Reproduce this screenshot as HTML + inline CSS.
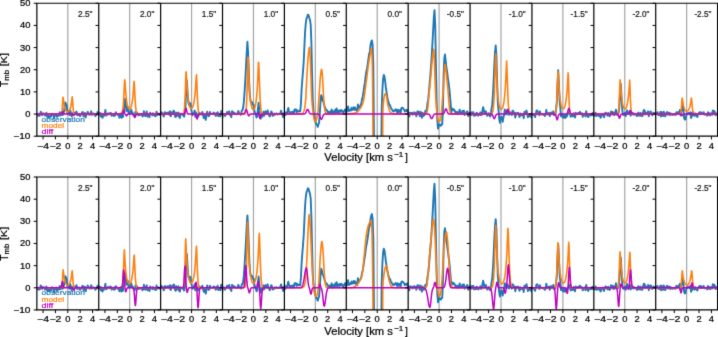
<!DOCTYPE html>
<html><head><meta charset="utf-8"><style>
html,body{margin:0;padding:0;background:#fff;width:718px;height:337px;overflow:hidden}
svg{display:block;font-family:"Liberation Sans",sans-serif;}
</style></head><body>
<svg width="718" height="337" viewBox="0 0 718 337">
<rect width="718" height="337" fill="#fff"/>
<defs>
<clipPath id="c0_0"><rect x="36.86" y="3.26" width="61.88" height="132.96"/></clipPath>
<clipPath id="c0_1"><rect x="98.75" y="3.26" width="61.88" height="132.96"/></clipPath>
<clipPath id="c0_2"><rect x="160.63" y="3.26" width="61.88" height="132.96"/></clipPath>
<clipPath id="c0_3"><rect x="222.51" y="3.26" width="61.88" height="132.96"/></clipPath>
<clipPath id="c0_4"><rect x="284.40" y="3.26" width="61.88" height="132.96"/></clipPath>
<clipPath id="c0_5"><rect x="346.29" y="3.26" width="61.88" height="132.96"/></clipPath>
<clipPath id="c0_6"><rect x="408.17" y="3.26" width="61.88" height="132.96"/></clipPath>
<clipPath id="c0_7"><rect x="470.06" y="3.26" width="61.88" height="132.96"/></clipPath>
<clipPath id="c0_8"><rect x="531.94" y="3.26" width="61.88" height="132.96"/></clipPath>
<clipPath id="c0_9"><rect x="593.83" y="3.26" width="61.88" height="132.96"/></clipPath>
<clipPath id="c0_10"><rect x="655.71" y="3.26" width="61.88" height="132.96"/></clipPath>
<clipPath id="c1_0"><rect x="36.86" y="177.00" width="61.88" height="132.90"/></clipPath>
<clipPath id="c1_1"><rect x="98.75" y="177.00" width="61.88" height="132.90"/></clipPath>
<clipPath id="c1_2"><rect x="160.63" y="177.00" width="61.88" height="132.90"/></clipPath>
<clipPath id="c1_3"><rect x="222.51" y="177.00" width="61.88" height="132.90"/></clipPath>
<clipPath id="c1_4"><rect x="284.40" y="177.00" width="61.88" height="132.90"/></clipPath>
<clipPath id="c1_5"><rect x="346.29" y="177.00" width="61.88" height="132.90"/></clipPath>
<clipPath id="c1_6"><rect x="408.17" y="177.00" width="61.88" height="132.90"/></clipPath>
<clipPath id="c1_7"><rect x="470.06" y="177.00" width="61.88" height="132.90"/></clipPath>
<clipPath id="c1_8"><rect x="531.94" y="177.00" width="61.88" height="132.90"/></clipPath>
<clipPath id="c1_9"><rect x="593.83" y="177.00" width="61.88" height="132.90"/></clipPath>
<clipPath id="c1_10"><rect x="655.71" y="177.00" width="61.88" height="132.90"/></clipPath>
<filter id="bl" x="0" y="0" width="718" height="337" filterUnits="userSpaceOnUse" color-interpolation-filters="sRGB"><feConvolveMatrix order="3" kernelMatrix="0.01134 0.08382 0.01134 0.08382 0.61935 0.08382 0.01134 0.08382 0.01134" edgeMode="duplicate" preserveAlpha="true"/></filter>
</defs>
<g filter="url(#bl)"><rect width="718" height="337" fill="#fff"/>
<line x1="67.80" y1="3.26" x2="67.80" y2="136.22" stroke="#a5a5a5" stroke-width="1.2"/>
<g clip-path="url(#c0_0)" fill="none" stroke-linejoin="round">
<polyline points="35.9,114.1 36.6,113.5 37.3,114.6 38.0,115.7 38.7,114.9 39.4,115.8 40.1,114.0 40.8,111.6 41.5,114.9 42.2,115.2 42.9,113.2 43.6,113.4 44.3,113.9 45.0,115.7 45.7,114.1 46.4,112.8 47.1,116.5 47.8,114.9 48.5,117.5 49.2,116.4 49.9,117.4 50.6,114.5 51.3,116.3 52.0,113.6 52.7,113.8 53.4,114.4 54.1,118.6 54.8,115.0 55.5,114.1 56.2,113.9 56.9,116.8 57.6,114.9 58.3,115.8 59.0,115.5 59.7,112.2 60.4,115.5 61.1,114.1 61.8,112.5 62.5,115.1 63.2,114.1 63.9,112.1 64.6,106.9 65.3,102.4 66.0,103.8 66.7,105.3 67.4,113.6 68.1,111.0 68.8,113.2 69.5,115.0 70.2,110.4 70.9,112.7 71.6,116.2 72.3,113.9 73.0,113.0 73.7,114.4 74.4,112.8 75.1,114.2 75.8,112.9 76.5,111.5 77.2,115.3 77.9,113.7 78.6,114.9 79.3,113.8 80.0,116.2 80.7,115.1 81.4,114.4 82.1,112.4 82.8,112.0 83.5,116.4 84.2,115.5 84.9,112.9 85.6,117.6 86.3,114.9 87.0,114.2 87.7,111.8 88.4,112.8 89.1,114.6 89.8,114.7 90.5,114.5 91.2,111.3 91.9,114.8 92.6,114.6 93.3,113.4 94.0,114.3 94.7,114.4 95.4,116.1 96.1,114.1 96.8,114.9 97.5,112.0 98.2,112.9 98.9,114.1 99.6,112.9" stroke="#1f77b4" stroke-width="1.9"/>
<polyline points="35.9,114.1 59.6,114.1 59.9,114.0 61.1,114.0 61.4,113.7 61.7,113.1 62.0,111.6 62.3,108.3 62.6,103.0 62.9,97.2 63.2,97.5 63.5,100.2 63.8,102.5 64.1,104.4 64.4,106.0 64.7,107.3 65.0,108.3 65.3,109.2 65.6,109.9 65.9,110.5 66.2,110.9 66.5,111.3 66.8,111.6 67.1,111.7 67.4,111.8 67.7,111.9 68.0,111.8 68.3,111.7 68.6,111.5 68.9,111.2 69.2,110.8 69.5,110.3 69.8,109.7 70.1,109.0 70.4,108.1 70.7,107.0 71.0,105.6 71.3,104.0 71.6,102.1 71.9,99.7 72.2,96.9 72.5,99.0 72.8,103.7 73.1,107.9 73.4,110.8 73.7,112.5 74.0,113.4 74.3,113.8 74.6,114.0 75.5,114.0 75.8,114.1 99.5,114.1" stroke="#ff7f0e" stroke-width="1.6"/>
<polyline points="35.9,114.1 60.8,114.1 61.1,114.0 61.4,113.9 61.7,113.5 62.0,112.6 62.3,111.7 62.6,111.7 62.9,112.7 63.2,113.6 63.5,113.9 63.8,114.0 64.1,114.1 71.9,114.1 72.2,114.2 72.5,114.3 72.8,114.7 73.1,115.2 73.4,115.5 73.7,115.5 74.0,115.1 74.3,114.7 74.6,114.3 74.9,114.1 99.5,114.1" stroke="#bf00bf" stroke-width="1.5" stroke-opacity="1.0"/>
</g>
<line x1="43.05" y1="136.22" x2="43.05" y2="139.42" stroke="#000" stroke-width="1.0"/>
<line x1="55.43" y1="136.22" x2="55.43" y2="139.42" stroke="#000" stroke-width="1.0"/>
<line x1="67.80" y1="136.22" x2="67.80" y2="139.42" stroke="#000" stroke-width="1.0"/>
<line x1="80.18" y1="136.22" x2="80.18" y2="139.42" stroke="#000" stroke-width="1.0"/>
<line x1="92.56" y1="136.22" x2="92.56" y2="139.42" stroke="#000" stroke-width="1.0"/>
<line x1="33.66" y1="136.22" x2="36.86" y2="136.22" stroke="#000" stroke-width="1.0"/>
<line x1="33.66" y1="114.06" x2="36.86" y2="114.06" stroke="#000" stroke-width="1.0"/>
<line x1="33.66" y1="91.90" x2="36.86" y2="91.90" stroke="#000" stroke-width="1.0"/>
<line x1="33.66" y1="69.74" x2="36.86" y2="69.74" stroke="#000" stroke-width="1.0"/>
<line x1="33.66" y1="47.58" x2="36.86" y2="47.58" stroke="#000" stroke-width="1.0"/>
<line x1="33.66" y1="25.42" x2="36.86" y2="25.42" stroke="#000" stroke-width="1.0"/>
<line x1="33.66" y1="3.26" x2="36.86" y2="3.26" stroke="#000" stroke-width="1.0"/>
<text font-family="Liberation Sans, sans-serif" x="43.05" y="148.72" font-size="8.6" text-anchor="middle" textLength="12.0" lengthAdjust="spacingAndGlyphs" stroke="#000" stroke-width="0.22">−4</text>
<text font-family="Liberation Sans, sans-serif" x="55.43" y="148.72" font-size="8.6" text-anchor="middle" textLength="12.0" lengthAdjust="spacingAndGlyphs" stroke="#000" stroke-width="0.22">−2</text>
<text font-family="Liberation Sans, sans-serif" x="67.80" y="148.72" font-size="8.6" text-anchor="middle" textLength="5.2" lengthAdjust="spacingAndGlyphs" stroke="#000" stroke-width="0.22">0</text>
<text font-family="Liberation Sans, sans-serif" x="80.18" y="148.72" font-size="8.6" text-anchor="middle" textLength="5.2" lengthAdjust="spacingAndGlyphs" stroke="#000" stroke-width="0.22">2</text>
<text font-family="Liberation Sans, sans-serif" x="92.56" y="148.72" font-size="8.6" text-anchor="middle" textLength="5.2" lengthAdjust="spacingAndGlyphs" stroke="#000" stroke-width="0.22">4</text>
<text font-family="Liberation Sans, sans-serif" x="92.55" y="16.76" font-size="8.2" text-anchor="end" fill="#111" textLength="14.5" lengthAdjust="spacingAndGlyphs" stroke="#111" stroke-width="0.18">2.5"</text>
<line x1="129.69" y1="3.26" x2="129.69" y2="136.22" stroke="#a5a5a5" stroke-width="1.2"/>
<g clip-path="url(#c0_1)" fill="none" stroke-linejoin="round">
<polyline points="97.7,114.7 98.4,112.2 99.1,114.1 99.8,113.0 100.5,116.4 101.2,113.4 101.9,117.1 102.6,117.7 103.3,114.6 104.0,115.7 104.7,113.8 105.4,110.0 106.1,115.6 106.8,115.2 107.5,113.7 108.2,113.2 108.9,114.4 109.6,114.4 110.3,112.8 111.0,113.1 111.7,115.9 112.4,114.2 113.1,114.0 113.8,116.0 114.5,113.6 115.2,115.6 115.9,112.3 116.6,113.7 117.3,113.9 118.0,115.1 118.7,114.3 119.4,117.7 120.1,116.1 120.8,113.4 121.5,117.9 122.2,112.5 122.9,117.1 123.6,111.2 124.3,105.9 125.0,98.9 125.7,104.4 126.4,111.0 127.1,106.3 127.8,107.4 128.5,113.0 129.2,113.9 129.9,112.1 130.6,112.7 131.3,109.7 132.0,112.5 132.7,112.7 133.4,115.2 134.1,115.2 134.8,116.4 135.5,111.8 136.2,114.3 136.9,112.3 137.6,114.0 138.3,115.3 139.0,114.6 139.7,115.1 140.4,114.0 141.1,114.7 141.8,114.6 142.5,116.5 143.2,115.5 143.9,111.1 144.6,115.3 145.3,116.0 146.0,113.5 146.7,111.5 147.4,116.7 148.1,114.4 148.8,115.2 149.5,117.2 150.2,112.7 150.9,114.1 151.6,113.9 152.3,115.4 153.0,113.2 153.7,115.0 154.4,114.3 155.1,116.1 155.8,116.2 156.5,111.7 157.2,115.0 157.9,113.5 158.6,114.1 159.3,114.9 160.0,115.0 160.7,112.9 161.4,114.6" stroke="#1f77b4" stroke-width="1.9"/>
<polyline points="97.7,114.1 119.3,114.1 119.6,114.0 120.8,114.0 121.1,113.9 121.4,113.7 121.7,113.4 122.0,112.9 122.3,112.1 122.6,110.8 122.9,108.7 123.2,105.8 123.5,101.7 123.8,96.6 124.1,90.6 124.4,84.6 124.7,79.7 125.0,81.4 125.3,86.6 125.6,90.9 125.9,94.5 126.2,97.5 126.5,100.0 126.8,102.1 127.1,103.8 127.4,105.2 127.7,106.4 128.0,107.3 128.3,108.0 128.6,108.5 128.9,108.9 129.2,109.1 129.5,109.2 129.8,109.1 130.1,108.8 130.4,108.5 130.7,107.9 131.0,107.2 131.3,106.2 131.6,105.1 131.9,103.6 132.2,101.9 132.5,99.8 132.8,97.3 133.1,94.3 133.4,90.7 133.7,86.5 134.0,81.4 134.3,83.0 134.6,88.8 134.9,95.2 135.2,100.9 135.5,105.5 135.8,108.7 136.1,110.9 136.4,112.3 136.7,113.1 137.0,113.6 137.3,113.8 137.6,113.9 137.9,114.0 139.1,114.0 139.4,114.1 161.3,114.1" stroke="#ff7f0e" stroke-width="1.6"/>
<polyline points="97.7,114.1 121.4,114.1 121.7,114.0 122.0,114.0 122.3,113.8 122.6,113.3 122.9,112.4 123.2,111.3 123.5,110.3 123.8,110.0 124.1,110.5 124.4,111.6 124.7,112.7 125.0,113.5 125.3,114.1 125.6,114.6 125.9,115.2 126.2,115.7 126.5,115.9 126.8,115.6 127.1,115.0 127.4,114.5 127.7,114.2 128.0,114.1 132.8,114.1 133.1,114.2 133.4,114.5 133.7,115.0 134.0,115.7 134.3,116.6 134.6,117.2 134.9,117.5 135.2,117.1 135.5,116.3 135.8,115.5 136.1,114.8 136.4,114.4 136.7,114.2 137.0,114.1 161.3,114.1" stroke="#bf00bf" stroke-width="1.5" stroke-opacity="1.0"/>
</g>
<line x1="104.93" y1="136.22" x2="104.93" y2="139.42" stroke="#000" stroke-width="1.0"/>
<line x1="117.31" y1="136.22" x2="117.31" y2="139.42" stroke="#000" stroke-width="1.0"/>
<line x1="129.69" y1="136.22" x2="129.69" y2="139.42" stroke="#000" stroke-width="1.0"/>
<line x1="142.06" y1="136.22" x2="142.06" y2="139.42" stroke="#000" stroke-width="1.0"/>
<line x1="154.44" y1="136.22" x2="154.44" y2="139.42" stroke="#000" stroke-width="1.0"/>
<line x1="95.55" y1="136.22" x2="98.75" y2="136.22" stroke="#000" stroke-width="1.0"/>
<line x1="95.55" y1="114.06" x2="98.75" y2="114.06" stroke="#000" stroke-width="1.0"/>
<line x1="95.55" y1="91.90" x2="98.75" y2="91.90" stroke="#000" stroke-width="1.0"/>
<line x1="95.55" y1="69.74" x2="98.75" y2="69.74" stroke="#000" stroke-width="1.0"/>
<line x1="95.55" y1="47.58" x2="98.75" y2="47.58" stroke="#000" stroke-width="1.0"/>
<line x1="95.55" y1="25.42" x2="98.75" y2="25.42" stroke="#000" stroke-width="1.0"/>
<line x1="95.55" y1="3.26" x2="98.75" y2="3.26" stroke="#000" stroke-width="1.0"/>
<text font-family="Liberation Sans, sans-serif" x="104.93" y="148.72" font-size="8.6" text-anchor="middle" textLength="12.0" lengthAdjust="spacingAndGlyphs" stroke="#000" stroke-width="0.22">−4</text>
<text font-family="Liberation Sans, sans-serif" x="117.31" y="148.72" font-size="8.6" text-anchor="middle" textLength="12.0" lengthAdjust="spacingAndGlyphs" stroke="#000" stroke-width="0.22">−2</text>
<text font-family="Liberation Sans, sans-serif" x="129.69" y="148.72" font-size="8.6" text-anchor="middle" textLength="5.2" lengthAdjust="spacingAndGlyphs" stroke="#000" stroke-width="0.22">0</text>
<text font-family="Liberation Sans, sans-serif" x="142.06" y="148.72" font-size="8.6" text-anchor="middle" textLength="5.2" lengthAdjust="spacingAndGlyphs" stroke="#000" stroke-width="0.22">2</text>
<text font-family="Liberation Sans, sans-serif" x="154.44" y="148.72" font-size="8.6" text-anchor="middle" textLength="5.2" lengthAdjust="spacingAndGlyphs" stroke="#000" stroke-width="0.22">4</text>
<text font-family="Liberation Sans, sans-serif" x="154.43" y="16.76" font-size="8.2" text-anchor="end" fill="#111" textLength="14.5" lengthAdjust="spacingAndGlyphs" stroke="#111" stroke-width="0.18">2.0"</text>
<line x1="191.57" y1="3.26" x2="191.57" y2="136.22" stroke="#a5a5a5" stroke-width="1.2"/>
<g clip-path="url(#c0_2)" fill="none" stroke-linejoin="round">
<polyline points="159.6,114.3 160.3,114.0 161.0,111.9 161.7,112.8 162.4,113.4 163.1,115.1 163.8,116.5 164.5,112.4 165.2,112.3 165.9,114.3 166.6,113.1 167.3,112.7 168.0,112.6 168.7,112.4 169.4,114.9 170.1,111.3 170.8,116.3 171.5,112.5 172.2,113.2 172.9,112.5 173.6,110.7 174.3,111.4 175.0,116.1 175.7,117.1 176.4,112.6 177.1,115.9 177.8,114.1 178.5,112.5 179.2,117.0 179.9,117.9 180.6,113.6 181.3,114.0 182.0,114.5 182.7,114.0 183.4,115.6 184.1,116.7 184.8,113.3 185.5,105.5 186.2,86.2 186.9,80.5 187.6,93.4 188.3,102.0 189.0,105.1 189.7,102.9 190.4,103.4 191.1,109.4 191.8,111.9 192.5,115.2 193.2,113.4 193.9,113.4 194.6,110.4 195.3,116.6 196.0,112.5 196.7,114.2 197.4,114.1 198.1,116.7 198.8,114.9 199.5,112.7 200.2,114.2 200.9,113.9 201.6,114.6 202.3,112.0 203.0,114.1 203.7,118.0 204.4,115.3 205.1,117.6 205.8,119.9 206.5,115.0 207.2,111.7 207.9,114.0 208.6,116.2 209.3,115.8 210.0,112.0 210.7,113.8 211.4,114.0 212.1,114.2 212.8,114.0 213.5,112.6 214.2,113.1 214.9,113.7 215.6,115.9 216.3,113.1 217.0,115.3 217.7,112.1 218.4,116.3 219.1,114.3 219.8,114.1 220.5,116.4 221.2,111.0 221.9,111.4 222.6,114.9 223.3,112.7" stroke="#1f77b4" stroke-width="1.9"/>
<polyline points="159.6,114.1 180.6,114.1 180.9,114.0 182.7,114.0 183.0,113.9 183.3,113.7 183.6,113.3 183.9,112.4 184.2,110.9 184.5,108.2 184.8,103.9 185.1,97.7 185.4,89.4 185.7,80.0 186.0,71.9 186.3,72.6 186.6,78.8 186.9,84.1 187.2,88.6 187.5,92.3 187.8,95.5 188.1,98.2 188.4,100.4 188.7,102.3 189.0,103.9 189.3,105.2 189.6,106.2 189.9,107.0 190.2,107.7 190.5,108.1 190.8,108.5 191.1,108.6 191.4,108.7 191.7,108.5 192.0,108.3 192.3,107.9 192.6,107.3 192.9,106.5 193.2,105.6 193.5,104.5 193.8,103.1 194.1,101.4 194.4,99.4 194.7,97.0 195.0,94.2 195.3,90.9 195.6,87.0 195.9,82.4 196.2,77.0 196.5,74.8 196.8,81.5 197.1,89.7 197.4,97.3 197.7,103.4 198.0,107.6 198.3,110.4 198.6,112.1 198.9,113.1 199.2,113.6 199.5,113.8 199.8,113.9 200.1,114.0 201.3,114.0 201.6,114.1 223.2,114.1" stroke="#ff7f0e" stroke-width="1.6"/>
<polyline points="159.6,114.1 183.3,114.1 183.6,114.0 183.9,114.0 184.2,113.8 184.5,113.4 184.8,112.6 185.1,111.3 185.4,109.8 185.7,108.6 186.0,108.2 186.3,108.8 186.6,110.1 186.9,111.6 187.2,112.8 187.5,113.5 187.8,113.9 188.1,114.0 188.4,114.0 188.7,114.1 194.7,114.1 195.0,114.2 195.3,114.4 195.6,114.8 195.9,115.6 196.2,116.8 196.5,118.0 196.8,118.8 197.1,118.9 197.4,118.1 197.7,116.9 198.0,115.8 198.3,114.9 198.6,114.4 198.9,114.2 199.2,114.1 223.2,114.1" stroke="#bf00bf" stroke-width="1.5" stroke-opacity="1.0"/>
</g>
<line x1="166.82" y1="136.22" x2="166.82" y2="139.42" stroke="#000" stroke-width="1.0"/>
<line x1="179.20" y1="136.22" x2="179.20" y2="139.42" stroke="#000" stroke-width="1.0"/>
<line x1="191.57" y1="136.22" x2="191.57" y2="139.42" stroke="#000" stroke-width="1.0"/>
<line x1="203.95" y1="136.22" x2="203.95" y2="139.42" stroke="#000" stroke-width="1.0"/>
<line x1="216.33" y1="136.22" x2="216.33" y2="139.42" stroke="#000" stroke-width="1.0"/>
<line x1="157.43" y1="136.22" x2="160.63" y2="136.22" stroke="#000" stroke-width="1.0"/>
<line x1="157.43" y1="114.06" x2="160.63" y2="114.06" stroke="#000" stroke-width="1.0"/>
<line x1="157.43" y1="91.90" x2="160.63" y2="91.90" stroke="#000" stroke-width="1.0"/>
<line x1="157.43" y1="69.74" x2="160.63" y2="69.74" stroke="#000" stroke-width="1.0"/>
<line x1="157.43" y1="47.58" x2="160.63" y2="47.58" stroke="#000" stroke-width="1.0"/>
<line x1="157.43" y1="25.42" x2="160.63" y2="25.42" stroke="#000" stroke-width="1.0"/>
<line x1="157.43" y1="3.26" x2="160.63" y2="3.26" stroke="#000" stroke-width="1.0"/>
<text font-family="Liberation Sans, sans-serif" x="166.82" y="148.72" font-size="8.6" text-anchor="middle" textLength="12.0" lengthAdjust="spacingAndGlyphs" stroke="#000" stroke-width="0.22">−4</text>
<text font-family="Liberation Sans, sans-serif" x="179.20" y="148.72" font-size="8.6" text-anchor="middle" textLength="12.0" lengthAdjust="spacingAndGlyphs" stroke="#000" stroke-width="0.22">−2</text>
<text font-family="Liberation Sans, sans-serif" x="191.57" y="148.72" font-size="8.6" text-anchor="middle" textLength="5.2" lengthAdjust="spacingAndGlyphs" stroke="#000" stroke-width="0.22">0</text>
<text font-family="Liberation Sans, sans-serif" x="203.95" y="148.72" font-size="8.6" text-anchor="middle" textLength="5.2" lengthAdjust="spacingAndGlyphs" stroke="#000" stroke-width="0.22">2</text>
<text font-family="Liberation Sans, sans-serif" x="216.33" y="148.72" font-size="8.6" text-anchor="middle" textLength="5.2" lengthAdjust="spacingAndGlyphs" stroke="#000" stroke-width="0.22">4</text>
<text font-family="Liberation Sans, sans-serif" x="216.31" y="16.76" font-size="8.2" text-anchor="end" fill="#111" textLength="14.5" lengthAdjust="spacingAndGlyphs" stroke="#111" stroke-width="0.18">1.5"</text>
<line x1="253.46" y1="3.26" x2="253.46" y2="136.22" stroke="#a5a5a5" stroke-width="1.2"/>
<g clip-path="url(#c0_3)" fill="none" stroke-linejoin="round">
<polyline points="221.5,113.4 222.2,118.8 222.9,113.6 223.6,114.2 224.3,113.9 225.0,116.0 225.7,114.5 226.4,114.4 227.1,111.9 227.8,113.4 228.5,114.0 229.2,111.3 229.9,115.0 230.6,114.7 231.3,117.2 232.0,111.1 232.7,112.2 233.4,112.3 234.1,112.7 234.8,113.7 235.5,113.5 236.2,114.3 236.9,114.2 237.6,113.7 238.3,111.0 239.0,112.7 239.7,113.8 240.4,114.7 241.1,114.7 241.8,110.4 242.5,110.4 243.2,107.3 243.9,101.4 244.6,91.1 245.3,80.0 246.0,66.8 246.7,52.8 247.4,41.7 248.1,52.5 248.8,71.6 249.5,90.4 250.2,98.8 250.9,102.5 251.6,101.9 252.3,102.6 253.0,104.9 253.7,105.0 254.4,110.4 255.1,113.4 255.8,114.6 256.5,117.5 257.2,116.4 257.9,109.2 258.6,102.8 259.3,110.4 260.0,115.3 260.7,118.7 261.4,114.6 262.1,116.7 262.8,116.1 263.5,111.8 264.2,115.7 264.9,112.1 265.6,111.3 266.3,113.6 267.0,113.1 267.7,110.5 268.4,114.4 269.1,115.1 269.8,116.5 270.5,114.0 271.2,111.4 271.9,112.3 272.6,115.8 273.3,115.6 274.0,115.0 274.7,113.5 275.4,114.4 276.1,113.7 276.8,113.5 277.5,114.6 278.2,114.1 278.9,113.7 279.6,114.2 280.3,113.2 281.0,110.7 281.7,113.0 282.4,114.0 283.1,117.1 283.8,113.4 284.5,117.6 285.2,116.6" stroke="#1f77b4" stroke-width="1.9"/>
<polyline points="221.5,114.1 243.4,114.1 243.7,114.0 244.6,114.0 244.9,113.9 245.2,113.6 245.5,113.0 245.8,112.0 246.1,109.9 246.4,106.4 246.7,100.7 247.0,92.3 247.3,81.2 247.6,68.4 247.9,57.1 248.2,57.8 248.5,67.5 248.8,75.5 249.1,82.1 249.4,87.6 249.7,92.1 250.0,95.8 250.3,98.8 250.6,101.3 250.9,103.4 251.2,105.0 251.5,106.3 251.8,107.4 252.1,108.2 252.4,108.8 252.7,109.2 253.0,109.5 253.3,109.6 253.6,109.5 253.9,109.3 254.2,108.9 254.5,108.3 254.8,107.5 255.1,106.5 255.4,105.3 255.7,103.7 256.0,101.8 256.3,99.5 256.6,96.7 256.9,93.3 257.2,89.2 257.5,84.3 257.8,78.3 258.1,71.2 258.4,62.6 258.7,62.4 259.0,69.5 259.3,78.1 259.6,86.5 259.9,93.9 260.2,99.9 260.5,104.5 260.8,107.9 261.1,110.2 261.4,111.7 261.7,112.7 262.0,113.3 262.3,113.6 262.6,113.8 262.9,113.9 263.2,114.0 263.8,114.0 264.1,114.1 285.1,114.1" stroke="#ff7f0e" stroke-width="1.6"/>
<polyline points="221.5,114.1 242.5,114.1 242.8,114.0 243.4,114.0 243.7,113.9 244.0,113.7 244.3,113.3 244.6,112.8 244.9,112.1 245.2,111.3 245.5,110.4 245.8,109.8 246.1,109.5 246.4,109.6 246.7,110.2 247.0,111.2 247.3,112.2 247.6,113.2 247.9,114.2 248.2,115.0 248.5,115.7 248.8,115.8 249.1,115.6 249.4,115.1 249.7,114.7 250.0,114.4 250.3,114.2 250.6,114.1 256.3,114.1 256.6,114.0 256.9,113.9 257.2,113.6 257.5,113.1 257.8,112.7 258.1,112.7 258.4,113.3 258.7,114.3 259.0,115.4 259.3,116.7 259.6,117.8 259.9,118.2 260.2,117.8 260.5,116.9 260.8,115.8 261.1,115.0 261.4,114.5 261.7,114.2 262.0,114.1 285.1,114.1" stroke="#bf00bf" stroke-width="1.5" stroke-opacity="1.0"/>
</g>
<line x1="228.70" y1="136.22" x2="228.70" y2="139.42" stroke="#000" stroke-width="1.0"/>
<line x1="241.08" y1="136.22" x2="241.08" y2="139.42" stroke="#000" stroke-width="1.0"/>
<line x1="253.46" y1="136.22" x2="253.46" y2="139.42" stroke="#000" stroke-width="1.0"/>
<line x1="265.83" y1="136.22" x2="265.83" y2="139.42" stroke="#000" stroke-width="1.0"/>
<line x1="278.21" y1="136.22" x2="278.21" y2="139.42" stroke="#000" stroke-width="1.0"/>
<line x1="219.31" y1="136.22" x2="222.51" y2="136.22" stroke="#000" stroke-width="1.0"/>
<line x1="219.31" y1="114.06" x2="222.51" y2="114.06" stroke="#000" stroke-width="1.0"/>
<line x1="219.31" y1="91.90" x2="222.51" y2="91.90" stroke="#000" stroke-width="1.0"/>
<line x1="219.31" y1="69.74" x2="222.51" y2="69.74" stroke="#000" stroke-width="1.0"/>
<line x1="219.31" y1="47.58" x2="222.51" y2="47.58" stroke="#000" stroke-width="1.0"/>
<line x1="219.31" y1="25.42" x2="222.51" y2="25.42" stroke="#000" stroke-width="1.0"/>
<line x1="219.31" y1="3.26" x2="222.51" y2="3.26" stroke="#000" stroke-width="1.0"/>
<text font-family="Liberation Sans, sans-serif" x="228.70" y="148.72" font-size="8.6" text-anchor="middle" textLength="12.0" lengthAdjust="spacingAndGlyphs" stroke="#000" stroke-width="0.22">−4</text>
<text font-family="Liberation Sans, sans-serif" x="241.08" y="148.72" font-size="8.6" text-anchor="middle" textLength="12.0" lengthAdjust="spacingAndGlyphs" stroke="#000" stroke-width="0.22">−2</text>
<text font-family="Liberation Sans, sans-serif" x="253.46" y="148.72" font-size="8.6" text-anchor="middle" textLength="5.2" lengthAdjust="spacingAndGlyphs" stroke="#000" stroke-width="0.22">0</text>
<text font-family="Liberation Sans, sans-serif" x="265.83" y="148.72" font-size="8.6" text-anchor="middle" textLength="5.2" lengthAdjust="spacingAndGlyphs" stroke="#000" stroke-width="0.22">2</text>
<text font-family="Liberation Sans, sans-serif" x="278.21" y="148.72" font-size="8.6" text-anchor="middle" textLength="5.2" lengthAdjust="spacingAndGlyphs" stroke="#000" stroke-width="0.22">4</text>
<text font-family="Liberation Sans, sans-serif" x="278.20" y="16.76" font-size="8.2" text-anchor="end" fill="#111" textLength="14.5" lengthAdjust="spacingAndGlyphs" stroke="#111" stroke-width="0.18">1.0"</text>
<line x1="315.34" y1="3.26" x2="315.34" y2="136.22" stroke="#a5a5a5" stroke-width="1.2"/>
<g clip-path="url(#c0_4)" fill="none" stroke-linejoin="round">
<polyline points="283.4,110.5 284.1,110.8 284.8,112.3 285.5,115.1 286.2,112.7 286.9,113.2 287.6,110.8 288.3,107.9 289.0,111.5 289.7,113.3 290.4,113.9 291.1,111.9 291.8,112.1 292.5,113.8 293.2,111.4 293.9,113.7 294.6,109.5 295.3,109.5 296.0,109.4 296.7,112.2 297.4,110.3 298.1,111.4 298.8,111.6 299.5,110.8 300.2,111.4 300.9,104.1 301.6,89.5 302.3,79.9 303.0,71.4 303.7,61.9 304.4,46.5 305.1,31.7 305.8,23.2 306.5,18.7 307.2,16.9 307.9,14.6 308.6,15.2 309.3,17.7 310.0,20.0 310.7,24.6 311.4,43.1 312.1,75.3 312.8,100.8 313.5,111.3 314.2,114.6 314.9,120.3 315.6,122.0 316.3,124.4 317.0,124.4 317.7,126.9 318.4,124.5 319.1,122.6 319.8,113.8 320.5,101.2 321.2,95.1 321.9,96.8 322.6,100.6 323.3,101.5 324.0,103.9 324.7,106.6 325.4,108.3 326.1,109.7 326.8,110.0 327.5,111.4 328.2,112.4 328.9,111.7 329.6,113.0 330.3,113.5 331.0,111.2 331.7,109.6 332.4,113.9 333.1,111.2 333.8,112.3 334.5,112.9 335.2,109.6 335.9,112.1 336.6,108.5 337.3,112.6 338.0,110.5 338.7,111.6 339.4,112.5 340.1,110.1 340.8,111.4 341.5,110.1 342.2,111.2 342.9,113.1 343.6,111.3 344.3,111.1 345.0,109.4 345.7,112.8 346.4,111.2 347.1,114.3" stroke="#1f77b4" stroke-width="1.9"/>
<polyline points="283.4,114.1 289.4,114.1 289.7,114.0 302.0,114.0 302.3,113.8 302.6,113.5 302.9,113.1 303.2,112.6 303.5,112.0 303.8,111.3 304.1,110.5 304.4,109.4 304.7,108.1 305.0,106.3 305.3,104.0 305.6,100.9 305.9,95.9 306.2,90.0 306.5,84.4 306.8,78.3 307.1,72.5 307.4,67.5 307.7,62.8 308.0,58.6 308.3,55.0 308.6,52.2 308.9,49.5 309.2,47.6 309.5,47.4 309.8,50.4 310.1,55.4 310.4,61.0 310.7,68.3 311.0,77.5 311.3,88.2 311.6,94.8 311.9,100.0 312.2,104.1 312.5,107.4 312.8,110.2 313.1,112.6 313.4,114.8 313.7,116.9 314.0,118.7 314.3,119.9 314.6,121.0 314.9,121.7 315.2,121.8 315.5,121.7 315.8,121.3 316.1,120.9 316.4,119.9 316.7,118.5 317.0,117.1 317.3,115.6 317.6,113.9 317.9,111.9 318.2,108.9 318.5,104.7 318.8,100.2 319.1,95.6 319.4,91.0 319.7,86.6 320.0,82.1 320.3,78.1 320.6,75.2 320.9,72.6 321.2,70.5 321.5,69.3 321.8,69.8 322.1,72.1 322.4,75.5 322.7,79.5 323.0,85.7 323.3,92.1 323.6,97.3 323.9,101.4 324.2,104.9 324.5,107.7 324.8,109.6 325.1,110.9 325.4,111.9 325.7,112.6 326.0,113.0 326.3,113.4 326.6,113.7 326.9,113.8 327.2,113.9 331.4,113.9 331.7,114.0 342.2,114.0 342.5,114.1 347.0,114.1" stroke="#ff7f0e" stroke-width="1.6"/>
<polyline points="283.4,114.1 303.5,114.1 303.8,114.0 304.4,114.0 304.7,113.9 305.0,113.7 305.3,113.5 305.6,113.1 305.9,112.5 306.2,111.9 306.5,111.1 306.8,110.4 307.1,109.8 307.4,109.4 307.7,109.4 308.0,109.6 308.3,110.2 308.6,110.9 308.9,111.6 309.2,112.3 309.5,112.9 309.8,113.4 310.1,113.7 310.4,113.8 310.7,113.9 311.0,114.0 311.3,114.0 311.6,114.1 317.9,114.1 318.2,114.2 318.5,114.3 318.8,114.5 319.1,114.9 319.4,115.4 319.7,116.0 320.0,116.8 320.3,117.6 320.6,118.4 320.9,119.0 321.2,119.3 321.5,119.3 321.8,118.9 322.1,118.2 322.4,117.4 322.7,116.5 323.0,115.8 323.3,115.2 323.6,114.7 323.9,114.4 324.2,114.3 324.5,114.2 324.8,114.1 347.0,114.1" stroke="#bf00bf" stroke-width="1.5" stroke-opacity="1.0"/>
</g>
<line x1="290.59" y1="136.22" x2="290.59" y2="139.42" stroke="#000" stroke-width="1.0"/>
<line x1="302.97" y1="136.22" x2="302.97" y2="139.42" stroke="#000" stroke-width="1.0"/>
<line x1="315.34" y1="136.22" x2="315.34" y2="139.42" stroke="#000" stroke-width="1.0"/>
<line x1="327.72" y1="136.22" x2="327.72" y2="139.42" stroke="#000" stroke-width="1.0"/>
<line x1="340.10" y1="136.22" x2="340.10" y2="139.42" stroke="#000" stroke-width="1.0"/>
<line x1="281.20" y1="136.22" x2="284.40" y2="136.22" stroke="#000" stroke-width="1.0"/>
<line x1="281.20" y1="114.06" x2="284.40" y2="114.06" stroke="#000" stroke-width="1.0"/>
<line x1="281.20" y1="91.90" x2="284.40" y2="91.90" stroke="#000" stroke-width="1.0"/>
<line x1="281.20" y1="69.74" x2="284.40" y2="69.74" stroke="#000" stroke-width="1.0"/>
<line x1="281.20" y1="47.58" x2="284.40" y2="47.58" stroke="#000" stroke-width="1.0"/>
<line x1="281.20" y1="25.42" x2="284.40" y2="25.42" stroke="#000" stroke-width="1.0"/>
<line x1="281.20" y1="3.26" x2="284.40" y2="3.26" stroke="#000" stroke-width="1.0"/>
<text font-family="Liberation Sans, sans-serif" x="290.59" y="148.72" font-size="8.6" text-anchor="middle" textLength="12.0" lengthAdjust="spacingAndGlyphs" stroke="#000" stroke-width="0.22">−4</text>
<text font-family="Liberation Sans, sans-serif" x="302.97" y="148.72" font-size="8.6" text-anchor="middle" textLength="12.0" lengthAdjust="spacingAndGlyphs" stroke="#000" stroke-width="0.22">−2</text>
<text font-family="Liberation Sans, sans-serif" x="315.34" y="148.72" font-size="8.6" text-anchor="middle" textLength="5.2" lengthAdjust="spacingAndGlyphs" stroke="#000" stroke-width="0.22">0</text>
<text font-family="Liberation Sans, sans-serif" x="327.72" y="148.72" font-size="8.6" text-anchor="middle" textLength="5.2" lengthAdjust="spacingAndGlyphs" stroke="#000" stroke-width="0.22">2</text>
<text font-family="Liberation Sans, sans-serif" x="340.10" y="148.72" font-size="8.6" text-anchor="middle" textLength="5.2" lengthAdjust="spacingAndGlyphs" stroke="#000" stroke-width="0.22">4</text>
<text font-family="Liberation Sans, sans-serif" x="340.08" y="16.76" font-size="8.2" text-anchor="end" fill="#111" textLength="14.5" lengthAdjust="spacingAndGlyphs" stroke="#111" stroke-width="0.18">0.5"</text>
<line x1="377.23" y1="3.26" x2="377.23" y2="136.22" stroke="#a5a5a5" stroke-width="1.2"/>
<g clip-path="url(#c0_5)" fill="none" stroke-linejoin="round">
<polyline points="345.3,107.4 346.0,110.5 346.7,111.8 347.4,108.6 348.1,106.5 348.8,111.2 349.5,110.4 350.2,109.8 350.9,110.5 351.6,107.7 352.3,109.9 353.0,109.7 353.7,107.3 354.4,109.7 355.1,107.5 355.8,110.0 356.5,110.4 357.2,111.4 357.9,104.5 358.6,108.1 359.3,106.6 360.0,106.3 360.7,105.1 361.4,103.2 362.1,98.7 362.8,96.5 363.5,91.8 364.2,86.9 364.9,82.7 365.6,76.7 366.3,72.0 367.0,68.5 367.7,64.2 368.4,59.2 369.1,53.8 369.8,52.1 370.5,45.3 371.2,41.9 371.9,40.4 372.6,44.6 373.3,64.3 374.0,137.9 374.7,194.7 375.4,193.2 376.1,193.5 376.8,194.3 377.5,194.6 378.2,195.3 378.9,194.3 379.6,194.1 381.0,194.1 381.7,108.7 382.4,89.8 383.1,78.8 383.8,74.9 384.5,76.7 385.2,81.5 385.9,87.9 386.6,92.5 387.3,96.9 388.0,100.4 388.7,102.6 389.4,105.3 390.1,105.2 390.8,108.0 391.5,108.7 392.2,109.9 392.9,111.0 393.6,111.4 394.3,110.2 395.0,110.7 395.7,109.3 396.4,109.8 397.1,112.2 397.8,109.6 398.5,112.1 399.2,110.7 399.9,110.1 400.6,113.0 401.3,108.4 402.0,107.6 402.7,107.8 403.4,108.8 404.1,109.6 404.8,111.4 405.5,110.3 406.2,110.9 406.9,109.7 407.6,112.1 408.3,109.6 409.0,109.8" stroke="#1f77b4" stroke-width="1.9"/>
<polyline points="345.3,114.0 345.6,114.0 345.9,113.9 347.7,113.9 348.0,113.8 349.2,113.8 349.5,113.7 350.4,113.7 350.7,113.6 351.6,113.6 351.9,113.5 352.5,113.5 352.8,113.4 353.4,113.4 353.7,113.3 354.3,113.3 354.6,113.2 354.9,113.2 355.2,113.1 355.5,113.0 355.8,112.8 356.1,112.6 356.4,112.4 356.7,112.1 357.0,111.9 357.3,111.6 357.6,111.4 357.9,111.1 358.2,110.8 358.5,110.5 358.8,110.2 359.1,109.9 359.4,109.5 359.7,109.1 360.0,108.7 360.3,108.3 360.6,107.8 360.9,107.3 361.2,106.8 361.5,106.2 361.8,105.6 362.1,105.0 362.4,104.3 362.7,103.6 363.0,102.7 363.3,101.7 363.6,100.4 363.9,98.8 364.2,96.8 364.5,94.8 364.8,92.8 365.1,90.6 365.4,88.3 365.7,85.9 366.0,83.7 366.3,81.5 366.6,79.3 366.9,77.0 367.2,74.5 367.5,71.9 367.8,69.4 368.1,67.1 368.4,64.9 368.7,62.8 369.0,60.9 369.3,59.1 369.6,57.4 369.9,55.8 370.2,54.2 370.5,52.3 370.8,50.1 371.1,48.6 371.4,49.0 371.7,51.5 372.0,55.4 372.3,64.2 372.6,82.5 372.9,121.8 373.2,193.7 373.5,194.1 382.2,194.1 382.5,167.3 382.8,114.8 383.1,106.8 383.4,103.2 383.7,100.2 384.0,97.7 384.3,96.1 384.6,95.1 384.9,94.3 385.2,93.8 385.5,93.7 385.8,94.1 386.1,95.0 386.4,96.0 386.7,97.4 387.0,99.5 387.3,101.7 387.6,103.7 387.9,105.1 388.2,106.3 388.5,107.3 388.8,108.3 389.1,109.4 389.4,110.3 389.7,111.0 390.0,111.6 390.3,112.1 390.6,112.5 390.9,112.8 391.2,113.0 391.5,113.2 391.8,113.3 392.1,113.5 392.4,113.6 392.7,113.7 393.0,113.8 393.3,113.8 393.6,113.9 393.9,113.9 394.2,114.0 394.5,114.0 394.8,114.1 408.9,114.1" stroke="#ff7f0e" stroke-width="1.6"/>
<polyline points="345.3,114.1 408.9,114.1" stroke="#bf00bf" stroke-width="1.5" stroke-opacity="1.0"/>
</g>
<line x1="352.47" y1="136.22" x2="352.47" y2="139.42" stroke="#000" stroke-width="1.0"/>
<line x1="364.85" y1="136.22" x2="364.85" y2="139.42" stroke="#000" stroke-width="1.0"/>
<line x1="377.23" y1="136.22" x2="377.23" y2="139.42" stroke="#000" stroke-width="1.0"/>
<line x1="389.60" y1="136.22" x2="389.60" y2="139.42" stroke="#000" stroke-width="1.0"/>
<line x1="401.98" y1="136.22" x2="401.98" y2="139.42" stroke="#000" stroke-width="1.0"/>
<line x1="343.09" y1="136.22" x2="346.29" y2="136.22" stroke="#000" stroke-width="1.0"/>
<line x1="343.09" y1="114.06" x2="346.29" y2="114.06" stroke="#000" stroke-width="1.0"/>
<line x1="343.09" y1="91.90" x2="346.29" y2="91.90" stroke="#000" stroke-width="1.0"/>
<line x1="343.09" y1="69.74" x2="346.29" y2="69.74" stroke="#000" stroke-width="1.0"/>
<line x1="343.09" y1="47.58" x2="346.29" y2="47.58" stroke="#000" stroke-width="1.0"/>
<line x1="343.09" y1="25.42" x2="346.29" y2="25.42" stroke="#000" stroke-width="1.0"/>
<line x1="343.09" y1="3.26" x2="346.29" y2="3.26" stroke="#000" stroke-width="1.0"/>
<text font-family="Liberation Sans, sans-serif" x="352.47" y="148.72" font-size="8.6" text-anchor="middle" textLength="12.0" lengthAdjust="spacingAndGlyphs" stroke="#000" stroke-width="0.22">−4</text>
<text font-family="Liberation Sans, sans-serif" x="364.85" y="148.72" font-size="8.6" text-anchor="middle" textLength="12.0" lengthAdjust="spacingAndGlyphs" stroke="#000" stroke-width="0.22">−2</text>
<text font-family="Liberation Sans, sans-serif" x="377.23" y="148.72" font-size="8.6" text-anchor="middle" textLength="5.2" lengthAdjust="spacingAndGlyphs" stroke="#000" stroke-width="0.22">0</text>
<text font-family="Liberation Sans, sans-serif" x="389.60" y="148.72" font-size="8.6" text-anchor="middle" textLength="5.2" lengthAdjust="spacingAndGlyphs" stroke="#000" stroke-width="0.22">2</text>
<text font-family="Liberation Sans, sans-serif" x="401.98" y="148.72" font-size="8.6" text-anchor="middle" textLength="5.2" lengthAdjust="spacingAndGlyphs" stroke="#000" stroke-width="0.22">4</text>
<text font-family="Liberation Sans, sans-serif" x="401.97" y="16.76" font-size="8.2" text-anchor="end" fill="#111" textLength="14.5" lengthAdjust="spacingAndGlyphs" stroke="#111" stroke-width="0.18">0.0"</text>
<line x1="439.11" y1="3.26" x2="439.11" y2="136.22" stroke="#a5a5a5" stroke-width="1.2"/>
<g clip-path="url(#c0_6)" fill="none" stroke-linejoin="round">
<polyline points="407.2,113.8 407.9,114.3 408.6,112.5 409.3,116.5 410.0,112.7 410.7,113.1 411.4,113.0 412.1,112.8 412.8,114.7 413.5,114.0 414.2,112.3 414.9,112.7 415.6,113.1 416.3,116.2 417.0,112.5 417.7,111.3 418.4,111.6 419.1,113.0 419.8,116.2 420.5,111.7 421.2,113.6 421.9,117.9 422.6,112.7 423.3,116.0 424.0,115.6 424.7,114.4 425.4,110.8 426.1,113.0 426.8,110.2 427.5,103.1 428.2,99.4 428.9,92.4 429.6,83.8 430.3,75.8 431.0,66.6 431.7,56.1 432.4,43.9 433.1,31.2 433.8,17.5 434.5,10.1 435.2,24.7 435.9,62.2 436.6,99.9 437.3,119.7 438.0,128.6 438.7,125.9 439.4,124.4 440.1,125.5 440.8,125.8 441.5,124.2 442.2,124.4 442.9,110.5 443.6,76.1 444.3,58.3 445.0,54.5 445.7,61.1 446.4,67.1 447.1,71.7 447.8,77.3 448.5,82.2 449.2,87.5 449.9,94.6 450.6,102.5 451.3,112.7 452.0,108.8 452.7,108.8 453.4,110.2 454.1,109.5 454.8,110.9 455.5,112.6 456.2,112.7 456.9,111.8 457.6,114.2 458.3,113.3 459.0,111.6 459.7,109.7 460.4,113.5 461.1,113.3 461.8,112.9 462.5,110.8 463.2,113.3 463.9,110.6 464.6,115.0 465.3,113.6 466.0,113.6 466.7,111.8 467.4,111.4 468.1,116.0 468.8,114.9 469.5,112.7 470.2,114.4 470.9,116.0" stroke="#1f77b4" stroke-width="1.9"/>
<polyline points="407.2,114.1 408.1,114.1 408.4,114.0 420.1,114.0 420.4,113.9 424.9,113.9 425.2,113.8 425.5,113.7 425.8,113.5 426.1,113.2 426.4,112.9 426.7,112.5 427.0,111.7 427.3,110.6 427.6,109.2 427.9,107.0 428.2,103.8 428.5,100.5 428.8,97.3 429.1,94.0 429.4,90.6 429.7,87.4 430.0,84.4 430.3,81.5 430.6,78.5 430.9,75.3 431.2,71.8 431.5,68.1 431.8,64.5 432.1,61.4 432.4,58.4 432.7,55.6 433.0,53.3 433.3,51.1 433.6,49.4 433.9,50.4 434.2,56.2 434.5,63.6 434.8,73.2 435.1,82.0 435.4,89.8 435.7,96.2 436.0,101.6 436.3,106.0 436.6,109.7 436.9,112.7 437.2,115.4 437.5,117.4 437.8,118.7 438.1,119.8 438.4,120.8 438.7,121.5 439.0,121.8 439.3,121.8 439.6,121.5 439.9,120.9 440.2,120.1 440.5,119.2 440.8,117.8 441.1,115.8 441.4,113.2 441.7,110.2 442.0,106.2 442.3,101.9 442.6,98.1 442.9,94.7 443.2,91.2 443.5,87.1 443.8,81.5 444.1,75.6 444.4,71.2 444.7,67.3 445.0,64.6 445.3,64.7 445.6,67.0 445.9,69.8 446.2,72.6 446.5,75.7 446.8,78.8 447.1,81.5 447.4,84.0 447.7,86.8 448.0,90.2 448.3,94.3 448.6,98.5 448.9,102.3 449.2,106.0 449.5,108.9 449.8,110.6 450.1,111.9 450.4,112.7 450.7,113.2 451.0,113.6 451.3,113.8 451.6,113.9 455.8,113.9 456.1,114.0 467.2,114.0 467.5,114.1 470.8,114.1" stroke="#ff7f0e" stroke-width="1.6"/>
<polyline points="407.2,114.1 428.2,114.1 428.5,114.2 428.8,114.3 429.1,114.4 429.4,114.7 429.7,115.1 430.0,115.7 430.3,116.4 430.6,117.1 430.9,117.8 431.2,118.3 431.5,118.6 431.8,118.6 432.1,118.3 432.4,117.7 432.7,117.0 433.0,116.3 433.3,115.6 433.6,115.1 433.9,114.7 434.2,114.4 434.5,114.2 434.8,114.2 435.1,114.1 442.0,114.1 442.3,114.0 442.9,114.0 443.2,113.9 443.5,113.7 443.8,113.4 444.1,112.9 444.4,112.2 444.7,111.4 445.0,110.5 445.3,109.6 445.6,109.0 445.9,108.8 446.2,108.9 446.5,109.5 446.8,110.3 447.1,111.2 447.4,112.0 447.7,112.7 448.0,113.3 448.3,113.6 448.6,113.8 448.9,114.0 449.5,114.0 449.8,114.1 470.8,114.1" stroke="#bf00bf" stroke-width="1.5" stroke-opacity="1.0"/>
</g>
<line x1="414.36" y1="136.22" x2="414.36" y2="139.42" stroke="#000" stroke-width="1.0"/>
<line x1="426.74" y1="136.22" x2="426.74" y2="139.42" stroke="#000" stroke-width="1.0"/>
<line x1="439.11" y1="136.22" x2="439.11" y2="139.42" stroke="#000" stroke-width="1.0"/>
<line x1="451.49" y1="136.22" x2="451.49" y2="139.42" stroke="#000" stroke-width="1.0"/>
<line x1="463.87" y1="136.22" x2="463.87" y2="139.42" stroke="#000" stroke-width="1.0"/>
<line x1="404.97" y1="136.22" x2="408.17" y2="136.22" stroke="#000" stroke-width="1.0"/>
<line x1="404.97" y1="114.06" x2="408.17" y2="114.06" stroke="#000" stroke-width="1.0"/>
<line x1="404.97" y1="91.90" x2="408.17" y2="91.90" stroke="#000" stroke-width="1.0"/>
<line x1="404.97" y1="69.74" x2="408.17" y2="69.74" stroke="#000" stroke-width="1.0"/>
<line x1="404.97" y1="47.58" x2="408.17" y2="47.58" stroke="#000" stroke-width="1.0"/>
<line x1="404.97" y1="25.42" x2="408.17" y2="25.42" stroke="#000" stroke-width="1.0"/>
<line x1="404.97" y1="3.26" x2="408.17" y2="3.26" stroke="#000" stroke-width="1.0"/>
<text font-family="Liberation Sans, sans-serif" x="414.36" y="148.72" font-size="8.6" text-anchor="middle" textLength="12.0" lengthAdjust="spacingAndGlyphs" stroke="#000" stroke-width="0.22">−4</text>
<text font-family="Liberation Sans, sans-serif" x="426.74" y="148.72" font-size="8.6" text-anchor="middle" textLength="12.0" lengthAdjust="spacingAndGlyphs" stroke="#000" stroke-width="0.22">−2</text>
<text font-family="Liberation Sans, sans-serif" x="439.11" y="148.72" font-size="8.6" text-anchor="middle" textLength="5.2" lengthAdjust="spacingAndGlyphs" stroke="#000" stroke-width="0.22">0</text>
<text font-family="Liberation Sans, sans-serif" x="451.49" y="148.72" font-size="8.6" text-anchor="middle" textLength="5.2" lengthAdjust="spacingAndGlyphs" stroke="#000" stroke-width="0.22">2</text>
<text font-family="Liberation Sans, sans-serif" x="463.87" y="148.72" font-size="8.6" text-anchor="middle" textLength="5.2" lengthAdjust="spacingAndGlyphs" stroke="#000" stroke-width="0.22">4</text>
<text font-family="Liberation Sans, sans-serif" x="463.86" y="16.76" font-size="8.2" text-anchor="end" fill="#111" textLength="17.0" lengthAdjust="spacingAndGlyphs" stroke="#111" stroke-width="0.18">-0.5"</text>
<line x1="501.00" y1="3.26" x2="501.00" y2="136.22" stroke="#a5a5a5" stroke-width="1.2"/>
<g clip-path="url(#c0_7)" fill="none" stroke-linejoin="round">
<polyline points="469.1,112.2 469.8,113.2 470.5,113.2 471.2,114.9 471.9,112.2 472.6,114.5 473.3,112.1 474.0,115.7 474.7,115.6 475.4,113.7 476.1,115.3 476.8,112.8 477.5,113.6 478.2,115.7 478.9,113.9 479.6,114.7 480.3,112.4 481.0,115.2 481.7,114.8 482.4,110.9 483.1,107.1 483.8,109.8 484.5,113.9 485.2,113.7 485.9,111.3 486.6,114.3 487.3,115.8 488.0,113.8 488.7,113.2 489.4,115.4 490.1,116.5 490.8,115.1 491.5,108.7 492.2,104.9 492.9,95.2 493.6,81.4 494.3,65.5 495.0,52.6 495.7,45.5 496.4,54.9 497.1,80.3 497.8,102.2 498.5,109.9 499.2,118.6 499.9,122.8 500.6,118.9 501.3,116.6 502.0,117.8 502.7,121.9 503.4,117.4 504.1,114.9 504.8,109.5 505.5,112.3 506.2,114.3 506.9,112.8 507.6,110.4 508.3,114.5 509.0,114.7 509.7,111.9 510.4,113.2 511.1,112.9 511.8,115.0 512.5,110.6 513.2,111.0 513.9,113.0 514.6,112.8 515.3,117.7 516.0,112.9 516.7,114.4 517.4,113.3 518.1,112.8 518.8,114.7 519.5,117.1 520.2,113.4 520.9,115.4 521.6,114.7 522.3,115.1 523.0,114.7 523.7,118.2 524.4,111.9 525.1,113.6 525.8,112.1 526.5,110.5 527.2,114.0 527.9,117.3 528.6,115.7 529.3,116.2 530.0,115.0 530.7,113.9 531.4,117.7 532.1,113.4 532.8,116.8" stroke="#1f77b4" stroke-width="1.9"/>
<polyline points="469.1,114.1 489.8,114.1 490.1,114.0 491.0,114.0 491.3,113.9 491.6,113.7 491.9,113.5 492.2,113.1 492.5,112.4 492.8,111.3 493.1,109.6 493.4,107.2 493.7,103.7 494.0,98.9 494.3,92.7 494.6,85.1 494.9,76.4 495.2,67.3 495.5,59.0 495.8,53.8 496.1,62.1 496.4,70.7 496.7,77.8 497.0,83.7 497.3,88.7 497.6,92.8 497.9,96.2 498.2,99.0 498.5,101.4 498.8,103.3 499.1,104.9 499.4,106.1 499.7,107.1 500.0,107.9 500.3,108.5 500.6,108.9 500.9,109.2 501.2,109.3 501.5,109.2 501.8,109.0 502.1,108.6 502.4,108.1 502.7,107.4 503.0,106.4 503.3,105.3 503.6,103.8 503.9,102.1 504.2,100.0 504.5,97.4 504.8,94.4 505.1,90.8 505.4,86.4 505.7,81.2 506.0,75.1 506.3,67.7 506.6,61.0 506.9,66.9 507.2,75.7 507.5,84.9 507.8,93.1 508.1,99.8 508.4,104.8 508.7,108.3 509.0,110.6 509.3,112.1 509.6,113.0 509.9,113.5 510.2,113.7 510.5,113.9 510.8,114.0 511.7,114.0 512.0,114.1 532.7,114.1" stroke="#ff7f0e" stroke-width="1.6"/>
<polyline points="469.1,114.1 491.3,114.1 491.6,114.2 491.9,114.3 492.2,114.6 492.5,115.0 492.8,115.6 493.1,116.4 493.4,117.3 493.7,118.0 494.0,118.5 494.3,118.7 494.6,118.4 494.9,117.8 495.2,116.9 495.5,116.1 495.8,115.4 496.1,114.9 496.4,114.5 496.7,114.3 497.0,114.2 497.3,114.1 504.2,114.1 504.5,114.0 505.1,114.0 505.4,113.8 505.7,113.5 506.0,113.1 506.3,112.4 506.6,111.5 506.9,110.6 507.2,109.8 507.5,109.3 507.8,109.3 508.1,109.8 508.4,110.6 508.7,111.6 509.0,112.4 509.3,113.1 509.6,113.6 509.9,113.8 510.2,114.0 510.8,114.0 511.1,114.1 532.7,114.1" stroke="#bf00bf" stroke-width="1.5" stroke-opacity="1.0"/>
</g>
<line x1="476.24" y1="136.22" x2="476.24" y2="139.42" stroke="#000" stroke-width="1.0"/>
<line x1="488.62" y1="136.22" x2="488.62" y2="139.42" stroke="#000" stroke-width="1.0"/>
<line x1="501.00" y1="136.22" x2="501.00" y2="139.42" stroke="#000" stroke-width="1.0"/>
<line x1="513.37" y1="136.22" x2="513.37" y2="139.42" stroke="#000" stroke-width="1.0"/>
<line x1="525.75" y1="136.22" x2="525.75" y2="139.42" stroke="#000" stroke-width="1.0"/>
<line x1="466.86" y1="136.22" x2="470.06" y2="136.22" stroke="#000" stroke-width="1.0"/>
<line x1="466.86" y1="114.06" x2="470.06" y2="114.06" stroke="#000" stroke-width="1.0"/>
<line x1="466.86" y1="91.90" x2="470.06" y2="91.90" stroke="#000" stroke-width="1.0"/>
<line x1="466.86" y1="69.74" x2="470.06" y2="69.74" stroke="#000" stroke-width="1.0"/>
<line x1="466.86" y1="47.58" x2="470.06" y2="47.58" stroke="#000" stroke-width="1.0"/>
<line x1="466.86" y1="25.42" x2="470.06" y2="25.42" stroke="#000" stroke-width="1.0"/>
<line x1="466.86" y1="3.26" x2="470.06" y2="3.26" stroke="#000" stroke-width="1.0"/>
<text font-family="Liberation Sans, sans-serif" x="476.24" y="148.72" font-size="8.6" text-anchor="middle" textLength="12.0" lengthAdjust="spacingAndGlyphs" stroke="#000" stroke-width="0.22">−4</text>
<text font-family="Liberation Sans, sans-serif" x="488.62" y="148.72" font-size="8.6" text-anchor="middle" textLength="12.0" lengthAdjust="spacingAndGlyphs" stroke="#000" stroke-width="0.22">−2</text>
<text font-family="Liberation Sans, sans-serif" x="501.00" y="148.72" font-size="8.6" text-anchor="middle" textLength="5.2" lengthAdjust="spacingAndGlyphs" stroke="#000" stroke-width="0.22">0</text>
<text font-family="Liberation Sans, sans-serif" x="513.37" y="148.72" font-size="8.6" text-anchor="middle" textLength="5.2" lengthAdjust="spacingAndGlyphs" stroke="#000" stroke-width="0.22">2</text>
<text font-family="Liberation Sans, sans-serif" x="525.75" y="148.72" font-size="8.6" text-anchor="middle" textLength="5.2" lengthAdjust="spacingAndGlyphs" stroke="#000" stroke-width="0.22">4</text>
<text font-family="Liberation Sans, sans-serif" x="525.74" y="16.76" font-size="8.2" text-anchor="end" fill="#111" textLength="17.0" lengthAdjust="spacingAndGlyphs" stroke="#111" stroke-width="0.18">-1.0"</text>
<line x1="562.88" y1="3.26" x2="562.88" y2="136.22" stroke="#a5a5a5" stroke-width="1.2"/>
<g clip-path="url(#c0_8)" fill="none" stroke-linejoin="round">
<polyline points="530.9,113.5 531.6,114.3 532.3,114.6 533.0,114.2 533.7,115.0 534.4,115.2 535.1,117.1 535.8,114.1 536.5,110.7 537.2,110.5 537.9,111.7 538.6,112.8 539.3,115.3 540.0,111.5 540.7,114.2 541.4,114.2 542.1,114.6 542.8,113.9 543.5,114.8 544.2,114.2 544.9,116.0 545.6,114.7 546.3,110.0 547.0,114.2 547.7,114.5 548.4,113.1 549.1,112.8 549.8,116.1 550.5,114.4 551.2,112.4 551.9,113.6 552.6,113.8 553.3,111.3 554.0,115.3 554.7,113.9 555.4,114.6 556.1,108.6 556.8,102.7 557.5,83.0 558.2,70.2 558.9,82.9 559.6,100.3 560.3,107.4 561.0,116.3 561.7,113.7 562.4,116.7 563.1,117.7 563.8,114.9 564.5,116.6 565.2,118.1 565.9,114.8 566.6,116.8 567.3,115.2 568.0,113.4 568.7,113.5 569.4,111.2 570.1,114.4 570.8,116.8 571.5,115.4 572.2,115.7 572.9,116.3 573.6,113.3 574.3,115.2 575.0,117.6 575.7,112.8 576.4,114.3 577.1,113.4 577.8,113.9 578.5,112.9 579.2,114.0 579.9,111.8 580.6,113.3 581.3,113.4 582.0,113.3 582.7,116.7 583.4,114.4 584.1,114.5 584.8,113.7 585.5,116.5 586.2,111.1 586.9,113.9 587.6,116.2 588.3,117.1 589.0,114.6 589.7,114.2 590.4,115.4 591.1,113.9 591.8,115.2 592.5,113.1 593.2,115.4 593.9,114.1 594.6,112.3" stroke="#1f77b4" stroke-width="1.9"/>
<polyline points="530.9,114.1 552.8,114.1 553.1,114.0 554.3,114.0 554.6,113.9 554.9,113.7 555.2,113.4 555.5,112.9 555.8,111.9 556.1,110.1 556.4,107.4 556.7,103.2 557.0,97.4 557.3,90.1 557.6,81.9 557.9,74.3 558.2,71.6 558.5,78.1 558.8,83.6 559.1,88.3 559.4,92.2 559.7,95.5 560.0,98.2 560.3,100.5 560.6,102.5 560.9,104.1 561.2,105.4 561.5,106.4 561.8,107.3 562.1,107.9 562.4,108.4 562.7,108.7 563.0,108.8 563.3,108.8 563.6,108.7 563.9,108.4 564.2,108.0 564.5,107.3 564.8,106.5 565.1,105.5 565.4,104.2 565.7,102.7 566.0,100.8 566.3,98.6 566.6,95.9 566.9,92.8 567.2,89.0 567.5,84.5 567.8,79.2 568.1,72.9 568.4,76.9 568.7,88.3 569.0,98.6 569.3,105.9 569.6,110.2 569.9,112.4 570.2,113.4 570.5,113.8 570.8,114.0 572.9,114.0 573.2,114.1 594.5,114.1" stroke="#ff7f0e" stroke-width="1.6"/>
<polyline points="530.9,114.1 554.9,114.1 555.2,114.3 555.5,114.7 555.8,115.3 556.1,116.4 556.4,117.7 556.7,118.9 557.0,119.7 557.3,119.8 557.6,119.0 557.9,117.7 558.2,116.4 558.5,115.4 558.8,114.7 559.1,114.3 559.4,114.2 559.7,114.1 565.7,114.1 566.0,114.0 566.3,114.0 566.6,113.9 566.9,113.7 567.2,113.2 567.5,112.5 567.8,111.4 568.1,110.2 568.4,109.1 568.7,108.5 569.0,108.4 569.3,109.1 569.6,110.2 569.9,111.4 570.2,112.4 570.5,113.2 570.8,113.6 571.1,113.9 571.4,114.0 571.7,114.0 572.0,114.1 594.5,114.1" stroke="#bf00bf" stroke-width="1.5" stroke-opacity="1.0"/>
</g>
<line x1="538.13" y1="136.22" x2="538.13" y2="139.42" stroke="#000" stroke-width="1.0"/>
<line x1="550.51" y1="136.22" x2="550.51" y2="139.42" stroke="#000" stroke-width="1.0"/>
<line x1="562.88" y1="136.22" x2="562.88" y2="139.42" stroke="#000" stroke-width="1.0"/>
<line x1="575.26" y1="136.22" x2="575.26" y2="139.42" stroke="#000" stroke-width="1.0"/>
<line x1="587.64" y1="136.22" x2="587.64" y2="139.42" stroke="#000" stroke-width="1.0"/>
<line x1="528.74" y1="136.22" x2="531.94" y2="136.22" stroke="#000" stroke-width="1.0"/>
<line x1="528.74" y1="114.06" x2="531.94" y2="114.06" stroke="#000" stroke-width="1.0"/>
<line x1="528.74" y1="91.90" x2="531.94" y2="91.90" stroke="#000" stroke-width="1.0"/>
<line x1="528.74" y1="69.74" x2="531.94" y2="69.74" stroke="#000" stroke-width="1.0"/>
<line x1="528.74" y1="47.58" x2="531.94" y2="47.58" stroke="#000" stroke-width="1.0"/>
<line x1="528.74" y1="25.42" x2="531.94" y2="25.42" stroke="#000" stroke-width="1.0"/>
<line x1="528.74" y1="3.26" x2="531.94" y2="3.26" stroke="#000" stroke-width="1.0"/>
<text font-family="Liberation Sans, sans-serif" x="538.13" y="148.72" font-size="8.6" text-anchor="middle" textLength="12.0" lengthAdjust="spacingAndGlyphs" stroke="#000" stroke-width="0.22">−4</text>
<text font-family="Liberation Sans, sans-serif" x="550.51" y="148.72" font-size="8.6" text-anchor="middle" textLength="12.0" lengthAdjust="spacingAndGlyphs" stroke="#000" stroke-width="0.22">−2</text>
<text font-family="Liberation Sans, sans-serif" x="562.88" y="148.72" font-size="8.6" text-anchor="middle" textLength="5.2" lengthAdjust="spacingAndGlyphs" stroke="#000" stroke-width="0.22">0</text>
<text font-family="Liberation Sans, sans-serif" x="575.26" y="148.72" font-size="8.6" text-anchor="middle" textLength="5.2" lengthAdjust="spacingAndGlyphs" stroke="#000" stroke-width="0.22">2</text>
<text font-family="Liberation Sans, sans-serif" x="587.64" y="148.72" font-size="8.6" text-anchor="middle" textLength="5.2" lengthAdjust="spacingAndGlyphs" stroke="#000" stroke-width="0.22">4</text>
<text font-family="Liberation Sans, sans-serif" x="587.62" y="16.76" font-size="8.2" text-anchor="end" fill="#111" textLength="17.0" lengthAdjust="spacingAndGlyphs" stroke="#111" stroke-width="0.18">-1.5"</text>
<line x1="624.77" y1="3.26" x2="624.77" y2="136.22" stroke="#a5a5a5" stroke-width="1.2"/>
<g clip-path="url(#c0_9)" fill="none" stroke-linejoin="round">
<polyline points="592.8,109.4 593.5,115.9 594.2,114.9 594.9,115.6 595.6,112.6 596.3,116.1 597.0,114.9 597.7,114.1 598.4,115.8 599.1,115.8 599.8,114.9 600.5,117.8 601.2,116.7 601.9,114.8 602.6,113.8 603.3,114.4 604.0,117.3 604.7,114.9 605.4,112.6 606.1,113.1 606.8,114.2 607.5,115.7 608.2,112.9 608.9,115.1 609.6,116.2 610.3,115.5 611.0,111.5 611.7,113.7 612.4,112.0 613.1,114.9 613.8,112.4 614.5,115.1 615.2,114.3 615.9,109.6 616.6,112.7 617.3,115.0 618.0,114.2 618.7,112.6 619.4,105.3 620.1,92.8 620.8,83.7 621.5,96.9 622.2,108.8 622.9,114.5 623.6,115.0 624.3,115.0 625.0,112.7 625.7,116.0 626.4,112.5 627.1,110.3 627.8,112.7 628.5,113.6 629.2,113.8 629.9,110.8 630.6,115.7 631.3,114.3 632.0,113.2 632.7,112.7 633.4,114.8 634.1,113.5 634.8,114.6 635.5,113.8 636.2,114.3 636.9,116.1 637.6,114.1 638.3,112.5 639.0,115.8 639.7,114.5 640.4,112.9 641.1,116.0 641.8,113.7 642.5,116.0 643.2,112.0 643.9,109.9 644.6,110.4 645.3,114.5 646.0,112.7 646.7,113.8 647.4,113.9 648.1,111.3 648.8,116.4 649.5,112.2 650.2,114.1 650.9,111.5 651.6,113.7 652.3,115.3 653.0,113.6 653.7,112.7 654.4,114.0 655.1,113.2 655.8,115.0 656.5,117.9" stroke="#1f77b4" stroke-width="1.9"/>
<polyline points="592.8,114.1 614.4,114.1 614.7,114.0 616.8,114.0 617.1,113.9 617.4,113.8 617.7,113.6 618.0,113.0 618.3,111.8 618.6,109.7 618.9,106.2 619.2,100.9 619.5,93.7 619.8,85.8 620.1,79.7 620.4,83.1 620.7,87.7 621.0,91.6 621.3,94.9 621.6,97.7 621.9,100.0 622.2,102.0 622.5,103.6 622.8,104.9 623.1,106.1 623.4,106.9 623.7,107.6 624.0,108.2 624.3,108.5 624.6,108.8 624.9,108.9 625.2,108.8 625.5,108.6 625.8,108.3 626.1,107.8 626.4,107.1 626.7,106.3 627.0,105.2 627.3,103.9 627.6,102.4 627.9,100.5 628.2,98.3 628.5,95.7 628.8,92.6 629.1,88.9 629.4,84.5 629.7,80.0 630.0,86.7 630.3,95.9 630.6,103.5 630.9,108.7 631.2,111.5 631.5,113.0 631.8,113.6 632.1,113.9 632.4,114.0 635.1,114.0 635.4,114.1 656.4,114.1" stroke="#ff7f0e" stroke-width="1.6"/>
<polyline points="592.8,114.1 617.4,114.1 617.7,114.2 618.0,114.5 618.3,115.1 618.6,116.0 618.9,117.1 619.2,118.0 619.5,118.3 619.8,117.8 620.1,116.9 620.4,115.8 620.7,115.0 621.0,114.5 621.3,114.2 621.6,114.1 627.9,114.1 628.2,114.0 628.5,114.0 628.8,113.9 629.1,113.5 629.4,113.0 629.7,112.2 630.0,111.3 630.3,110.8 630.6,110.7 630.9,111.2 631.2,112.0 631.5,112.9 631.8,113.5 632.1,113.8 632.4,114.0 632.7,114.0 633.0,114.1 656.4,114.1" stroke="#bf00bf" stroke-width="1.5" stroke-opacity="1.0"/>
</g>
<line x1="600.01" y1="136.22" x2="600.01" y2="139.42" stroke="#000" stroke-width="1.0"/>
<line x1="612.39" y1="136.22" x2="612.39" y2="139.42" stroke="#000" stroke-width="1.0"/>
<line x1="624.77" y1="136.22" x2="624.77" y2="139.42" stroke="#000" stroke-width="1.0"/>
<line x1="637.14" y1="136.22" x2="637.14" y2="139.42" stroke="#000" stroke-width="1.0"/>
<line x1="649.52" y1="136.22" x2="649.52" y2="139.42" stroke="#000" stroke-width="1.0"/>
<line x1="590.62" y1="136.22" x2="593.83" y2="136.22" stroke="#000" stroke-width="1.0"/>
<line x1="590.62" y1="114.06" x2="593.83" y2="114.06" stroke="#000" stroke-width="1.0"/>
<line x1="590.62" y1="91.90" x2="593.83" y2="91.90" stroke="#000" stroke-width="1.0"/>
<line x1="590.62" y1="69.74" x2="593.83" y2="69.74" stroke="#000" stroke-width="1.0"/>
<line x1="590.62" y1="47.58" x2="593.83" y2="47.58" stroke="#000" stroke-width="1.0"/>
<line x1="590.62" y1="25.42" x2="593.83" y2="25.42" stroke="#000" stroke-width="1.0"/>
<line x1="590.62" y1="3.26" x2="593.83" y2="3.26" stroke="#000" stroke-width="1.0"/>
<text font-family="Liberation Sans, sans-serif" x="600.01" y="148.72" font-size="8.6" text-anchor="middle" textLength="12.0" lengthAdjust="spacingAndGlyphs" stroke="#000" stroke-width="0.22">−4</text>
<text font-family="Liberation Sans, sans-serif" x="612.39" y="148.72" font-size="8.6" text-anchor="middle" textLength="12.0" lengthAdjust="spacingAndGlyphs" stroke="#000" stroke-width="0.22">−2</text>
<text font-family="Liberation Sans, sans-serif" x="624.77" y="148.72" font-size="8.6" text-anchor="middle" textLength="5.2" lengthAdjust="spacingAndGlyphs" stroke="#000" stroke-width="0.22">0</text>
<text font-family="Liberation Sans, sans-serif" x="637.14" y="148.72" font-size="8.6" text-anchor="middle" textLength="5.2" lengthAdjust="spacingAndGlyphs" stroke="#000" stroke-width="0.22">2</text>
<text font-family="Liberation Sans, sans-serif" x="649.52" y="148.72" font-size="8.6" text-anchor="middle" textLength="5.2" lengthAdjust="spacingAndGlyphs" stroke="#000" stroke-width="0.22">4</text>
<text font-family="Liberation Sans, sans-serif" x="649.51" y="16.76" font-size="8.2" text-anchor="end" fill="#111" textLength="17.0" lengthAdjust="spacingAndGlyphs" stroke="#111" stroke-width="0.18">-2.0"</text>
<line x1="686.65" y1="3.26" x2="686.65" y2="136.22" stroke="#a5a5a5" stroke-width="1.2"/>
<g clip-path="url(#c0_10)" fill="none" stroke-linejoin="round">
<polyline points="654.7,112.4 655.4,112.8 656.1,113.8 656.8,113.9 657.5,112.2 658.2,114.9 658.9,115.3 659.6,114.4 660.3,111.9 661.0,116.6 661.7,111.9 662.4,115.2 663.1,116.0 663.8,111.8 664.5,114.2 665.2,116.4 665.9,114.7 666.6,112.4 667.3,111.9 668.0,114.8 668.7,113.3 669.4,112.8 670.1,115.2 670.8,113.4 671.5,114.1 672.2,115.0 672.9,114.9 673.6,113.9 674.3,114.0 675.0,115.1 675.7,114.8 676.4,112.1 677.1,113.7 677.8,112.5 678.5,111.9 679.2,113.0 679.9,110.0 680.6,115.5 681.3,111.8 682.0,109.8 682.7,104.2 683.4,109.1 684.1,117.9 684.8,119.6 685.5,119.4 686.2,115.6 686.9,113.1 687.6,114.2 688.3,113.2 689.0,112.9 689.7,114.2 690.4,112.2 691.1,118.1 691.8,112.9 692.5,115.9 693.2,112.3 693.9,114.5 694.6,115.7 695.3,113.4 696.0,115.7 696.7,115.7 697.4,116.9 698.1,114.1 698.8,113.2 699.5,112.2 700.2,114.3 700.9,112.2 701.6,114.0 702.3,114.2 703.0,113.0 703.7,112.2 704.4,114.7 705.1,114.5 705.8,114.3 706.5,113.9 707.2,115.7 707.9,112.2 708.6,114.8 709.3,113.2 710.0,115.5 710.7,113.4 711.4,113.4 712.1,114.8 712.8,110.4 713.5,113.4 714.2,110.9 714.9,112.3 715.6,115.3 716.3,114.7 717.0,113.3 717.7,113.9 718.4,114.0" stroke="#1f77b4" stroke-width="1.9"/>
<polyline points="654.7,114.1 677.5,114.1 677.8,114.0 679.6,114.0 679.9,113.9 680.2,113.7 680.5,113.3 680.8,112.3 681.1,110.4 681.4,107.3 681.7,103.1 682.0,98.8 682.3,98.2 682.6,100.5 682.9,102.5 683.2,104.2 683.5,105.6 683.8,106.8 684.1,107.8 684.4,108.6 684.7,109.3 685.0,109.9 685.3,110.3 685.6,110.7 685.9,110.9 686.2,111.1 686.5,111.2 686.8,111.3 687.1,111.2 687.4,111.1 687.7,110.9 688.0,110.6 688.3,110.3 688.6,109.8 688.9,109.2 689.2,108.5 689.5,107.7 689.8,106.7 690.1,105.5 690.4,104.1 690.7,102.4 691.0,100.4 691.3,98.0 691.6,98.7 691.9,102.4 692.2,106.3 692.5,109.4 692.8,111.5 693.1,112.7 693.4,113.4 693.7,113.8 694.0,113.9 694.3,114.0 695.8,114.0 696.1,114.1 718.3,114.1" stroke="#ff7f0e" stroke-width="1.6"/>
<polyline points="654.7,114.1 680.8,114.1 681.1,114.4 681.4,114.8 681.7,115.3 682.0,115.6 682.3,115.3 682.6,114.8 682.9,114.3 683.2,114.1 718.3,114.1" stroke="#bf00bf" stroke-width="1.5" stroke-opacity="1.0"/>
</g>
<line x1="661.90" y1="136.22" x2="661.90" y2="139.42" stroke="#000" stroke-width="1.0"/>
<line x1="674.28" y1="136.22" x2="674.28" y2="139.42" stroke="#000" stroke-width="1.0"/>
<line x1="686.65" y1="136.22" x2="686.65" y2="139.42" stroke="#000" stroke-width="1.0"/>
<line x1="699.03" y1="136.22" x2="699.03" y2="139.42" stroke="#000" stroke-width="1.0"/>
<line x1="711.41" y1="136.22" x2="711.41" y2="139.42" stroke="#000" stroke-width="1.0"/>
<line x1="652.51" y1="136.22" x2="655.71" y2="136.22" stroke="#000" stroke-width="1.0"/>
<line x1="652.51" y1="114.06" x2="655.71" y2="114.06" stroke="#000" stroke-width="1.0"/>
<line x1="652.51" y1="91.90" x2="655.71" y2="91.90" stroke="#000" stroke-width="1.0"/>
<line x1="652.51" y1="69.74" x2="655.71" y2="69.74" stroke="#000" stroke-width="1.0"/>
<line x1="652.51" y1="47.58" x2="655.71" y2="47.58" stroke="#000" stroke-width="1.0"/>
<line x1="652.51" y1="25.42" x2="655.71" y2="25.42" stroke="#000" stroke-width="1.0"/>
<line x1="652.51" y1="3.26" x2="655.71" y2="3.26" stroke="#000" stroke-width="1.0"/>
<text font-family="Liberation Sans, sans-serif" x="661.90" y="148.72" font-size="8.6" text-anchor="middle" textLength="12.0" lengthAdjust="spacingAndGlyphs" stroke="#000" stroke-width="0.22">−4</text>
<text font-family="Liberation Sans, sans-serif" x="674.28" y="148.72" font-size="8.6" text-anchor="middle" textLength="12.0" lengthAdjust="spacingAndGlyphs" stroke="#000" stroke-width="0.22">−2</text>
<text font-family="Liberation Sans, sans-serif" x="686.65" y="148.72" font-size="8.6" text-anchor="middle" textLength="5.2" lengthAdjust="spacingAndGlyphs" stroke="#000" stroke-width="0.22">0</text>
<text font-family="Liberation Sans, sans-serif" x="699.03" y="148.72" font-size="8.6" text-anchor="middle" textLength="5.2" lengthAdjust="spacingAndGlyphs" stroke="#000" stroke-width="0.22">2</text>
<text font-family="Liberation Sans, sans-serif" x="711.41" y="148.72" font-size="8.6" text-anchor="middle" textLength="5.2" lengthAdjust="spacingAndGlyphs" stroke="#000" stroke-width="0.22">4</text>
<text font-family="Liberation Sans, sans-serif" x="711.39" y="16.76" font-size="8.2" text-anchor="end" fill="#111" textLength="17.0" lengthAdjust="spacingAndGlyphs" stroke="#111" stroke-width="0.18">-2.5"</text>
<line x1="36.26" y1="3.26" x2="718.20" y2="3.26" stroke="#000" stroke-width="1.2"/>
<line x1="36.26" y1="136.22" x2="718.20" y2="136.22" stroke="#000" stroke-width="1.2"/>
<line x1="36.86" y1="3.26" x2="36.86" y2="136.22" stroke="#000" stroke-width="1.2"/>
<line x1="98.75" y1="3.26" x2="98.75" y2="136.22" stroke="#000" stroke-width="1.2"/>
<line x1="160.63" y1="3.26" x2="160.63" y2="136.22" stroke="#000" stroke-width="1.2"/>
<line x1="222.51" y1="3.26" x2="222.51" y2="136.22" stroke="#000" stroke-width="1.2"/>
<line x1="284.40" y1="3.26" x2="284.40" y2="136.22" stroke="#000" stroke-width="1.2"/>
<line x1="346.29" y1="3.26" x2="346.29" y2="136.22" stroke="#000" stroke-width="1.2"/>
<line x1="408.17" y1="3.26" x2="408.17" y2="136.22" stroke="#000" stroke-width="1.2"/>
<line x1="470.06" y1="3.26" x2="470.06" y2="136.22" stroke="#000" stroke-width="1.2"/>
<line x1="531.94" y1="3.26" x2="531.94" y2="136.22" stroke="#000" stroke-width="1.2"/>
<line x1="593.83" y1="3.26" x2="593.83" y2="136.22" stroke="#000" stroke-width="1.2"/>
<line x1="655.71" y1="3.26" x2="655.71" y2="136.22" stroke="#000" stroke-width="1.2"/>
<line x1="717.60" y1="3.26" x2="717.60" y2="136.22" stroke="#000" stroke-width="1.2"/>
<text font-family="Liberation Sans, sans-serif" x="30.46" y="139.17" font-size="8.6" text-anchor="end" textLength="17.2" lengthAdjust="spacingAndGlyphs" stroke="#000" stroke-width="0.22">−10</text>
<text font-family="Liberation Sans, sans-serif" x="30.46" y="117.01" font-size="8.6" text-anchor="end" textLength="5.2" lengthAdjust="spacingAndGlyphs" stroke="#000" stroke-width="0.22">0</text>
<text font-family="Liberation Sans, sans-serif" x="30.46" y="94.85" font-size="8.6" text-anchor="end" textLength="10.4" lengthAdjust="spacingAndGlyphs" stroke="#000" stroke-width="0.22">10</text>
<text font-family="Liberation Sans, sans-serif" x="30.46" y="72.69" font-size="8.6" text-anchor="end" textLength="10.4" lengthAdjust="spacingAndGlyphs" stroke="#000" stroke-width="0.22">20</text>
<text font-family="Liberation Sans, sans-serif" x="30.46" y="50.53" font-size="8.6" text-anchor="end" textLength="10.4" lengthAdjust="spacingAndGlyphs" stroke="#000" stroke-width="0.22">30</text>
<text font-family="Liberation Sans, sans-serif" x="30.46" y="28.37" font-size="8.6" text-anchor="end" textLength="10.4" lengthAdjust="spacingAndGlyphs" stroke="#000" stroke-width="0.22">40</text>
<text font-family="Liberation Sans, sans-serif" x="30.46" y="6.21" font-size="8.6" text-anchor="end" textLength="10.4" lengthAdjust="spacingAndGlyphs" stroke="#000" stroke-width="0.22">50</text>
<text font-family="Liberation Sans, sans-serif" x="41.6" y="121.60" font-size="8.0" fill="#1f77b4" textLength="43.2" lengthAdjust="spacingAndGlyphs" stroke="#1f77b4" stroke-width="0.22">observation</text>
<text font-family="Liberation Sans, sans-serif" x="41.6" y="127.90" font-size="8.0" fill="#ff7f0e" textLength="22.5" lengthAdjust="spacingAndGlyphs" stroke="#ff7f0e" stroke-width="0.22">model</text>
<text font-family="Liberation Sans, sans-serif" x="41.6" y="134.20" font-size="8.0" fill="#bf00bf" textLength="11.7" lengthAdjust="spacingAndGlyphs" stroke="#bf00bf" stroke-width="0.22">diff</text>
<text font-family="Liberation Sans, sans-serif" x="324.3" y="161.10" font-size="10.2" textLength="68.6" lengthAdjust="spacingAndGlyphs" stroke="#000" stroke-width="0.22">Velocity [km s</text>
<text font-family="Liberation Sans, sans-serif" x="394.0" y="157.40" font-size="7.0" textLength="9.2" lengthAdjust="spacingAndGlyphs" stroke="#000" stroke-width="0.22">−1</text>
<text font-family="Liberation Sans, sans-serif" x="404.9" y="161.10" font-size="10.2" stroke="#000" stroke-width="0.22">]</text>
<g transform="translate(0,70.80) rotate(-90)">
<text font-family="Liberation Sans, sans-serif" x="-16.2" y="7.6" font-size="10.2" textLength="6.2" lengthAdjust="spacingAndGlyphs" stroke="#000" stroke-width="0.22">T</text>
<text font-family="Liberation Sans, sans-serif" x="-9.9" y="8.5" font-size="6.9" textLength="10.6" lengthAdjust="spacingAndGlyphs" stroke="#000" stroke-width="0.22">mb</text>
<text font-family="Liberation Sans, sans-serif" x="4.6" y="7.0" font-size="9.4" textLength="13.1" lengthAdjust="spacingAndGlyphs" stroke="#000" stroke-width="0.22">[K]</text>
</g>
<line x1="67.80" y1="177.00" x2="67.80" y2="309.90" stroke="#a5a5a5" stroke-width="1.2"/>
<g clip-path="url(#c1_0)" fill="none" stroke-linejoin="round">
<polyline points="35.9,287.8 36.6,287.3 37.3,288.3 38.0,289.4 38.7,288.6 39.4,289.6 40.1,287.7 40.8,285.4 41.5,288.7 42.2,288.9 42.9,286.9 43.6,287.2 44.3,287.6 45.0,289.5 45.7,287.9 46.4,286.5 47.1,290.2 47.8,288.6 48.5,291.2 49.2,290.1 49.9,291.1 50.6,288.2 51.3,290.1 52.0,287.3 52.7,287.5 53.4,288.1 54.1,292.3 54.8,288.8 55.5,287.9 56.2,287.6 56.9,290.6 57.6,288.7 58.3,289.6 59.0,289.3 59.7,285.9 60.4,289.3 61.1,287.9 61.8,286.2 62.5,288.8 63.2,287.8 63.9,285.8 64.6,280.7 65.3,276.2 66.0,277.5 66.7,279.1 67.4,287.3 68.1,284.8 68.8,287.0 69.5,288.7 70.2,284.1 70.9,286.4 71.6,290.0 72.3,287.7 73.0,286.8 73.7,288.1 74.4,286.6 75.1,287.9 75.8,286.6 76.5,285.2 77.2,289.0 77.9,287.4 78.6,288.6 79.3,287.6 80.0,289.9 80.7,288.8 81.4,288.2 82.1,286.2 82.8,285.7 83.5,290.2 84.2,289.2 84.9,286.6 85.6,291.4 86.3,288.6 87.0,288.0 87.7,285.5 88.4,286.6 89.1,288.4 89.8,288.5 90.5,288.3 91.2,285.1 91.9,288.6 92.6,288.3 93.3,287.2 94.0,288.0 94.7,288.2 95.4,289.8 96.1,287.8 96.8,288.6 97.5,285.7 98.2,286.6 98.9,287.8 99.6,286.6" stroke="#1f77b4" stroke-width="1.9"/>
<polyline points="35.9,287.8 60.8,287.8 61.1,287.7 61.4,287.5 61.7,286.9 62.0,285.5 62.3,282.7 62.6,278.0 62.9,272.3 63.2,269.9 63.5,272.8 63.8,275.2 64.1,277.2 64.4,278.8 64.7,280.2 65.0,281.4 65.3,282.3 65.6,283.1 65.9,283.7 66.2,284.2 66.5,284.6 66.8,284.9 67.1,285.1 67.4,285.2 68.0,285.2 68.3,285.0 68.6,284.8 68.9,284.5 69.2,284.1 69.5,283.6 69.8,282.9 70.1,282.2 70.4,281.2 70.7,280.1 71.0,278.7 71.3,277.0 71.6,275.1 71.9,272.7 72.2,270.7 72.5,274.2 72.8,278.7 73.1,282.4 73.4,284.9 73.7,286.4 74.0,287.2 74.3,287.5 74.6,287.7 74.9,287.8 99.5,287.8" stroke="#ff7f0e" stroke-width="1.6"/>
<polyline points="35.9,287.8 60.5,287.8 60.8,287.6 61.1,287.2 61.4,286.2 61.7,284.5 62.0,282.6 62.3,281.6 62.6,282.2 62.9,284.0 63.2,285.8 63.5,287.0 63.8,287.6 64.1,287.8 72.2,287.8 72.5,287.9 72.8,288.2 73.1,288.8 73.4,289.5 73.7,290.0 74.0,290.0 74.3,289.5 74.6,288.7 74.9,288.2 75.2,287.9 75.5,287.8 99.5,287.8" stroke="#bf00bf" stroke-width="1.5" stroke-opacity="1.0"/>
</g>
<line x1="43.05" y1="309.90" x2="43.05" y2="313.10" stroke="#000" stroke-width="1.0"/>
<line x1="55.43" y1="309.90" x2="55.43" y2="313.10" stroke="#000" stroke-width="1.0"/>
<line x1="67.80" y1="309.90" x2="67.80" y2="313.10" stroke="#000" stroke-width="1.0"/>
<line x1="80.18" y1="309.90" x2="80.18" y2="313.10" stroke="#000" stroke-width="1.0"/>
<line x1="92.56" y1="309.90" x2="92.56" y2="313.10" stroke="#000" stroke-width="1.0"/>
<line x1="33.66" y1="309.96" x2="36.86" y2="309.96" stroke="#000" stroke-width="1.0"/>
<line x1="33.66" y1="287.80" x2="36.86" y2="287.80" stroke="#000" stroke-width="1.0"/>
<line x1="33.66" y1="265.64" x2="36.86" y2="265.64" stroke="#000" stroke-width="1.0"/>
<line x1="33.66" y1="243.48" x2="36.86" y2="243.48" stroke="#000" stroke-width="1.0"/>
<line x1="33.66" y1="221.32" x2="36.86" y2="221.32" stroke="#000" stroke-width="1.0"/>
<line x1="33.66" y1="199.16" x2="36.86" y2="199.16" stroke="#000" stroke-width="1.0"/>
<line x1="33.66" y1="177.00" x2="36.86" y2="177.00" stroke="#000" stroke-width="1.0"/>
<text font-family="Liberation Sans, sans-serif" x="43.05" y="322.40" font-size="8.6" text-anchor="middle" textLength="12.0" lengthAdjust="spacingAndGlyphs" stroke="#000" stroke-width="0.22">−4</text>
<text font-family="Liberation Sans, sans-serif" x="55.43" y="322.40" font-size="8.6" text-anchor="middle" textLength="12.0" lengthAdjust="spacingAndGlyphs" stroke="#000" stroke-width="0.22">−2</text>
<text font-family="Liberation Sans, sans-serif" x="67.80" y="322.40" font-size="8.6" text-anchor="middle" textLength="5.2" lengthAdjust="spacingAndGlyphs" stroke="#000" stroke-width="0.22">0</text>
<text font-family="Liberation Sans, sans-serif" x="80.18" y="322.40" font-size="8.6" text-anchor="middle" textLength="5.2" lengthAdjust="spacingAndGlyphs" stroke="#000" stroke-width="0.22">2</text>
<text font-family="Liberation Sans, sans-serif" x="92.56" y="322.40" font-size="8.6" text-anchor="middle" textLength="5.2" lengthAdjust="spacingAndGlyphs" stroke="#000" stroke-width="0.22">4</text>
<text font-family="Liberation Sans, sans-serif" x="92.55" y="190.50" font-size="8.2" text-anchor="end" fill="#111" textLength="14.5" lengthAdjust="spacingAndGlyphs" stroke="#111" stroke-width="0.18">2.5"</text>
<line x1="129.69" y1="177.00" x2="129.69" y2="309.90" stroke="#a5a5a5" stroke-width="1.2"/>
<g clip-path="url(#c1_1)" fill="none" stroke-linejoin="round">
<polyline points="97.7,288.4 98.4,285.9 99.1,287.8 99.8,286.7 100.5,290.1 101.2,287.2 101.9,290.8 102.6,291.5 103.3,288.3 104.0,289.4 104.7,287.5 105.4,283.8 106.1,289.3 106.8,288.9 107.5,287.4 108.2,286.9 108.9,288.1 109.6,288.2 110.3,286.5 111.0,286.9 111.7,289.7 112.4,287.9 113.1,287.7 113.8,289.7 114.5,287.3 115.2,289.3 115.9,286.1 116.6,287.5 117.3,287.6 118.0,288.9 118.7,288.0 119.4,291.4 120.1,289.8 120.8,287.1 121.5,291.6 122.2,286.3 122.9,290.9 123.6,284.9 124.3,279.6 125.0,272.7 125.7,278.2 126.4,284.7 127.1,280.1 127.8,281.1 128.5,286.7 129.2,287.7 129.9,285.8 130.6,286.4 131.3,283.4 132.0,286.2 132.7,286.5 133.4,288.9 134.1,288.9 134.8,290.1 135.5,285.5 136.2,288.1 136.9,286.1 137.6,287.8 138.3,289.0 139.0,288.4 139.7,288.8 140.4,287.8 141.1,288.5 141.8,288.3 142.5,290.3 143.2,289.3 143.9,284.8 144.6,289.0 145.3,289.7 146.0,287.2 146.7,285.3 147.4,290.4 148.1,288.2 148.8,288.9 149.5,291.0 150.2,286.5 150.9,287.8 151.6,287.7 152.3,289.2 153.0,287.0 153.7,288.8 154.4,288.1 155.1,289.8 155.8,290.0 156.5,285.4 157.2,288.7 157.9,287.3 158.6,287.9 159.3,288.6 160.0,288.7 160.7,286.7 161.4,288.3" stroke="#1f77b4" stroke-width="1.9"/>
<polyline points="97.7,287.8 121.1,287.8 121.4,287.7 121.7,287.6 122.0,287.2 122.3,286.5 122.6,285.1 122.9,282.4 123.2,277.8 123.5,271.0 123.8,262.2 124.1,253.3 124.4,249.8 124.7,256.1 125.0,261.3 125.3,265.6 125.6,269.3 125.9,272.3 126.2,274.7 126.5,276.8 126.8,278.5 127.1,279.8 127.4,281.0 127.7,281.9 128.0,282.6 128.3,283.1 128.6,283.5 128.9,283.7 129.2,283.8 129.5,283.8 129.8,283.6 130.1,283.3 130.4,282.9 130.7,282.4 131.0,281.6 131.3,280.7 131.6,279.6 131.9,278.2 132.2,276.5 132.5,274.5 132.8,272.0 133.1,269.1 133.4,265.7 133.7,261.5 134.0,256.6 134.3,255.1 134.6,261.1 134.9,268.3 135.2,274.8 135.5,279.7 135.8,283.1 136.1,285.3 136.4,286.5 136.7,287.2 137.0,287.5 137.3,287.7 137.6,287.7 137.9,287.8 161.3,287.8" stroke="#ff7f0e" stroke-width="1.6"/>
<polyline points="97.7,287.8 121.4,287.8 121.7,287.6 122.0,287.2 122.3,285.9 122.6,283.2 122.9,278.7 123.2,273.6 123.5,270.0 123.8,270.0 124.1,273.6 124.4,279.0 124.7,284.1 125.0,287.9 125.3,290.3 125.6,291.6 125.9,291.8 126.2,291.0 126.5,289.9 126.8,288.9 127.1,288.2 127.4,287.9 127.7,287.8 132.8,287.8 133.1,287.9 133.4,288.2 133.7,289.0 134.0,290.7 134.3,293.7 134.6,298.0 134.9,302.4 135.2,305.4 135.5,305.4 135.8,302.6 136.1,298.1 136.4,293.8 136.7,290.7 137.0,289.0 137.3,288.2 137.6,287.9 137.9,287.8 161.3,287.8" stroke="#bf00bf" stroke-width="1.5" stroke-opacity="1.0"/>
</g>
<line x1="104.93" y1="309.90" x2="104.93" y2="313.10" stroke="#000" stroke-width="1.0"/>
<line x1="117.31" y1="309.90" x2="117.31" y2="313.10" stroke="#000" stroke-width="1.0"/>
<line x1="129.69" y1="309.90" x2="129.69" y2="313.10" stroke="#000" stroke-width="1.0"/>
<line x1="142.06" y1="309.90" x2="142.06" y2="313.10" stroke="#000" stroke-width="1.0"/>
<line x1="154.44" y1="309.90" x2="154.44" y2="313.10" stroke="#000" stroke-width="1.0"/>
<line x1="95.55" y1="309.96" x2="98.75" y2="309.96" stroke="#000" stroke-width="1.0"/>
<line x1="95.55" y1="287.80" x2="98.75" y2="287.80" stroke="#000" stroke-width="1.0"/>
<line x1="95.55" y1="265.64" x2="98.75" y2="265.64" stroke="#000" stroke-width="1.0"/>
<line x1="95.55" y1="243.48" x2="98.75" y2="243.48" stroke="#000" stroke-width="1.0"/>
<line x1="95.55" y1="221.32" x2="98.75" y2="221.32" stroke="#000" stroke-width="1.0"/>
<line x1="95.55" y1="199.16" x2="98.75" y2="199.16" stroke="#000" stroke-width="1.0"/>
<line x1="95.55" y1="177.00" x2="98.75" y2="177.00" stroke="#000" stroke-width="1.0"/>
<text font-family="Liberation Sans, sans-serif" x="104.93" y="322.40" font-size="8.6" text-anchor="middle" textLength="12.0" lengthAdjust="spacingAndGlyphs" stroke="#000" stroke-width="0.22">−4</text>
<text font-family="Liberation Sans, sans-serif" x="117.31" y="322.40" font-size="8.6" text-anchor="middle" textLength="12.0" lengthAdjust="spacingAndGlyphs" stroke="#000" stroke-width="0.22">−2</text>
<text font-family="Liberation Sans, sans-serif" x="129.69" y="322.40" font-size="8.6" text-anchor="middle" textLength="5.2" lengthAdjust="spacingAndGlyphs" stroke="#000" stroke-width="0.22">0</text>
<text font-family="Liberation Sans, sans-serif" x="142.06" y="322.40" font-size="8.6" text-anchor="middle" textLength="5.2" lengthAdjust="spacingAndGlyphs" stroke="#000" stroke-width="0.22">2</text>
<text font-family="Liberation Sans, sans-serif" x="154.44" y="322.40" font-size="8.6" text-anchor="middle" textLength="5.2" lengthAdjust="spacingAndGlyphs" stroke="#000" stroke-width="0.22">4</text>
<text font-family="Liberation Sans, sans-serif" x="154.43" y="190.50" font-size="8.2" text-anchor="end" fill="#111" textLength="14.5" lengthAdjust="spacingAndGlyphs" stroke="#111" stroke-width="0.18">2.0"</text>
<line x1="191.57" y1="177.00" x2="191.57" y2="309.90" stroke="#a5a5a5" stroke-width="1.2"/>
<g clip-path="url(#c1_2)" fill="none" stroke-linejoin="round">
<polyline points="159.6,288.1 160.3,287.8 161.0,285.7 161.7,286.6 162.4,287.1 163.1,288.8 163.8,290.3 164.5,286.1 165.2,286.1 165.9,288.1 166.6,286.8 167.3,286.4 168.0,286.3 168.7,286.1 169.4,288.6 170.1,285.1 170.8,290.0 171.5,286.2 172.2,286.9 172.9,286.2 173.6,284.4 174.3,285.1 175.0,289.9 175.7,290.8 176.4,286.3 177.1,289.6 177.8,287.8 178.5,286.3 179.2,290.8 179.9,291.6 180.6,287.3 181.3,287.7 182.0,288.2 182.7,287.7 183.4,289.3 184.1,290.5 184.8,287.0 185.5,279.3 186.2,260.0 186.9,254.2 187.6,267.1 188.3,275.7 189.0,278.9 189.7,276.7 190.4,277.1 191.1,283.1 191.8,285.6 192.5,288.9 193.2,287.1 193.9,287.2 194.6,284.2 195.3,290.3 196.0,286.2 196.7,288.0 197.4,287.8 198.1,290.4 198.8,288.6 199.5,286.5 200.2,287.9 200.9,287.7 201.6,288.3 202.3,285.7 203.0,287.8 203.7,291.8 204.4,289.0 205.1,291.3 205.8,293.7 206.5,288.8 207.2,285.4 207.9,287.7 208.6,289.9 209.3,289.5 210.0,285.8 210.7,287.5 211.4,287.7 212.1,287.9 212.8,287.7 213.5,286.4 214.2,286.8 214.9,287.4 215.6,289.7 216.3,286.9 217.0,289.0 217.7,285.8 218.4,290.1 219.1,288.0 219.8,287.8 220.5,290.2 221.2,284.7 221.9,285.2 222.6,288.6 223.3,286.4" stroke="#1f77b4" stroke-width="1.9"/>
<polyline points="159.6,287.8 182.1,287.8 182.4,287.7 182.7,287.7 183.0,287.5 183.3,287.1 183.6,286.3 183.9,284.6 184.2,281.6 184.5,276.5 184.8,268.9 185.1,258.7 185.4,247.4 185.7,238.8 186.0,244.2 186.3,251.1 186.6,256.8 186.9,261.7 187.2,265.7 187.5,269.1 187.8,272.0 188.1,274.4 188.4,276.3 188.7,278.0 189.0,279.3 189.3,280.4 189.6,281.3 189.9,282.0 190.2,282.5 190.5,282.8 190.8,283.0 191.1,283.1 191.4,283.0 191.7,282.8 192.0,282.5 192.3,282.0 192.6,281.4 192.9,280.6 193.2,279.6 193.5,278.3 193.8,276.8 194.1,275.0 194.4,272.9 194.7,270.3 195.0,267.3 195.3,263.7 195.6,259.5 195.9,254.5 196.2,248.6 196.5,246.2 196.8,253.3 197.1,262.0 197.4,270.1 197.7,276.5 198.0,281.0 198.3,284.0 198.6,285.8 198.9,286.8 199.2,287.3 199.5,287.6 199.8,287.7 200.1,287.7 200.4,287.8 223.2,287.8" stroke="#ff7f0e" stroke-width="1.6"/>
<polyline points="159.6,287.8 182.7,287.8 183.0,287.6 183.3,287.1 183.6,285.6 183.9,282.5 184.2,277.3 184.5,271.1 184.8,266.7 185.1,266.4 185.4,270.5 185.7,276.8 186.0,282.8 186.3,287.2 186.6,290.1 186.9,291.9 187.2,292.4 187.5,291.9 187.8,290.7 188.1,289.4 188.4,288.5 188.7,288.1 189.0,287.9 189.3,287.8 194.1,287.8 194.4,287.6 194.7,287.2 195.0,286.3 195.3,284.9 195.6,283.3 195.9,282.2 196.2,282.5 196.5,284.7 196.8,288.7 197.1,294.0 197.4,300.0 197.7,305.1 198.0,307.7 198.3,306.9 198.6,303.0 198.9,297.9 199.2,293.4 199.5,290.4 199.8,288.8 200.1,288.1 200.4,287.9 200.7,287.8 223.2,287.8" stroke="#bf00bf" stroke-width="1.5" stroke-opacity="1.0"/>
</g>
<line x1="166.82" y1="309.90" x2="166.82" y2="313.10" stroke="#000" stroke-width="1.0"/>
<line x1="179.20" y1="309.90" x2="179.20" y2="313.10" stroke="#000" stroke-width="1.0"/>
<line x1="191.57" y1="309.90" x2="191.57" y2="313.10" stroke="#000" stroke-width="1.0"/>
<line x1="203.95" y1="309.90" x2="203.95" y2="313.10" stroke="#000" stroke-width="1.0"/>
<line x1="216.33" y1="309.90" x2="216.33" y2="313.10" stroke="#000" stroke-width="1.0"/>
<line x1="157.43" y1="309.96" x2="160.63" y2="309.96" stroke="#000" stroke-width="1.0"/>
<line x1="157.43" y1="287.80" x2="160.63" y2="287.80" stroke="#000" stroke-width="1.0"/>
<line x1="157.43" y1="265.64" x2="160.63" y2="265.64" stroke="#000" stroke-width="1.0"/>
<line x1="157.43" y1="243.48" x2="160.63" y2="243.48" stroke="#000" stroke-width="1.0"/>
<line x1="157.43" y1="221.32" x2="160.63" y2="221.32" stroke="#000" stroke-width="1.0"/>
<line x1="157.43" y1="199.16" x2="160.63" y2="199.16" stroke="#000" stroke-width="1.0"/>
<line x1="157.43" y1="177.00" x2="160.63" y2="177.00" stroke="#000" stroke-width="1.0"/>
<text font-family="Liberation Sans, sans-serif" x="166.82" y="322.40" font-size="8.6" text-anchor="middle" textLength="12.0" lengthAdjust="spacingAndGlyphs" stroke="#000" stroke-width="0.22">−4</text>
<text font-family="Liberation Sans, sans-serif" x="179.20" y="322.40" font-size="8.6" text-anchor="middle" textLength="12.0" lengthAdjust="spacingAndGlyphs" stroke="#000" stroke-width="0.22">−2</text>
<text font-family="Liberation Sans, sans-serif" x="191.57" y="322.40" font-size="8.6" text-anchor="middle" textLength="5.2" lengthAdjust="spacingAndGlyphs" stroke="#000" stroke-width="0.22">0</text>
<text font-family="Liberation Sans, sans-serif" x="203.95" y="322.40" font-size="8.6" text-anchor="middle" textLength="5.2" lengthAdjust="spacingAndGlyphs" stroke="#000" stroke-width="0.22">2</text>
<text font-family="Liberation Sans, sans-serif" x="216.33" y="322.40" font-size="8.6" text-anchor="middle" textLength="5.2" lengthAdjust="spacingAndGlyphs" stroke="#000" stroke-width="0.22">4</text>
<text font-family="Liberation Sans, sans-serif" x="216.31" y="190.50" font-size="8.2" text-anchor="end" fill="#111" textLength="14.5" lengthAdjust="spacingAndGlyphs" stroke="#111" stroke-width="0.18">1.5"</text>
<line x1="253.46" y1="177.00" x2="253.46" y2="309.90" stroke="#a5a5a5" stroke-width="1.2"/>
<g clip-path="url(#c1_3)" fill="none" stroke-linejoin="round">
<polyline points="221.5,287.1 222.2,292.5 222.9,287.3 223.6,287.9 224.3,287.6 225.0,289.7 225.7,288.3 226.4,288.1 227.1,285.6 227.8,287.2 228.5,287.8 229.2,285.0 229.9,288.7 230.6,288.4 231.3,291.0 232.0,284.9 232.7,285.9 233.4,286.0 234.1,286.4 234.8,287.4 235.5,287.2 236.2,288.0 236.9,287.9 237.6,287.4 238.3,284.8 239.0,286.4 239.7,287.5 240.4,288.4 241.1,288.5 241.8,284.1 242.5,284.2 243.2,281.1 243.9,275.1 244.6,264.8 245.3,253.7 246.0,240.6 246.7,226.5 247.4,215.4 248.1,226.2 248.8,245.3 249.5,264.2 250.2,272.5 250.9,276.2 251.6,275.6 252.3,276.3 253.0,278.6 253.7,278.7 254.4,284.2 255.1,287.1 255.8,288.3 256.5,291.3 257.2,290.2 257.9,283.0 258.6,276.5 259.3,284.1 260.0,289.1 260.7,292.5 261.4,288.3 262.1,290.5 262.8,289.8 263.5,285.5 264.2,289.4 264.9,285.9 265.6,285.1 266.3,287.3 267.0,286.8 267.7,284.3 268.4,288.2 269.1,288.9 269.8,290.2 270.5,287.7 271.2,285.1 271.9,286.1 272.6,289.5 273.3,289.3 274.0,288.7 274.7,287.3 275.4,288.2 276.1,287.4 276.8,287.3 277.5,288.3 278.2,287.9 278.9,287.4 279.6,288.0 280.3,286.9 281.0,284.4 281.7,286.7 282.4,287.7 283.1,290.8 283.8,287.1 284.5,291.3 285.2,290.3" stroke="#1f77b4" stroke-width="1.9"/>
<polyline points="221.5,287.8 243.7,287.8 244.0,287.7 244.3,287.7 244.6,287.5 244.9,287.1 245.2,286.3 245.5,284.8 245.8,281.8 246.1,276.8 246.4,268.8 246.7,257.5 247.0,243.6 247.3,229.5 247.6,222.1 247.9,232.6 248.2,241.4 248.5,248.8 248.8,255.0 249.1,260.2 249.4,264.6 249.7,268.2 250.0,271.3 250.3,273.8 250.6,275.9 250.9,277.6 251.2,279.1 251.5,280.3 251.8,281.2 252.1,281.9 252.4,282.5 252.7,282.9 253.0,283.2 253.3,283.3 253.6,283.3 253.9,283.1 254.2,282.9 254.5,282.5 254.8,281.9 255.1,281.2 255.4,280.3 255.7,279.1 256.0,277.8 256.3,276.1 256.6,274.2 256.9,271.8 257.2,269.0 257.5,265.7 257.8,261.8 258.1,257.2 258.4,251.7 258.7,245.2 259.0,237.6 259.3,233.3 259.6,240.1 259.9,249.1 260.2,258.4 260.5,266.6 260.8,273.2 261.1,278.2 261.4,281.7 261.7,284.1 262.0,285.6 262.3,286.6 262.6,287.1 262.9,287.4 263.2,287.6 263.5,287.7 263.8,287.8 285.1,287.8" stroke="#ff7f0e" stroke-width="1.6"/>
<polyline points="221.5,287.8 243.1,287.8 243.4,287.7 243.7,287.5 244.0,286.9 244.3,285.3 244.6,282.3 244.9,277.6 245.2,272.0 245.5,267.2 245.8,265.5 246.1,267.6 246.4,272.5 246.7,278.1 247.0,282.7 247.3,285.6 247.6,287.2 247.9,288.1 248.2,289.0 248.5,290.1 248.8,291.4 249.1,292.5 249.4,292.9 249.7,292.4 250.0,291.3 250.3,290.0 250.6,289.0 250.9,288.3 251.2,288.0 251.5,287.9 251.8,287.8 256.0,287.8 256.3,287.7 256.6,287.4 256.9,286.7 257.2,285.4 257.5,283.7 257.8,282.1 258.1,281.5 258.4,282.3 258.7,284.1 259.0,286.4 259.3,289.1 259.6,292.5 259.9,297.2 260.2,302.5 260.5,306.9 260.8,308.5 261.1,306.5 261.4,302.0 261.7,296.8 262.0,292.5 262.3,289.9 262.6,288.6 262.9,288.0 263.2,287.9 263.5,287.8 285.1,287.8" stroke="#bf00bf" stroke-width="1.5" stroke-opacity="1.0"/>
</g>
<line x1="228.70" y1="309.90" x2="228.70" y2="313.10" stroke="#000" stroke-width="1.0"/>
<line x1="241.08" y1="309.90" x2="241.08" y2="313.10" stroke="#000" stroke-width="1.0"/>
<line x1="253.46" y1="309.90" x2="253.46" y2="313.10" stroke="#000" stroke-width="1.0"/>
<line x1="265.83" y1="309.90" x2="265.83" y2="313.10" stroke="#000" stroke-width="1.0"/>
<line x1="278.21" y1="309.90" x2="278.21" y2="313.10" stroke="#000" stroke-width="1.0"/>
<line x1="219.31" y1="309.96" x2="222.51" y2="309.96" stroke="#000" stroke-width="1.0"/>
<line x1="219.31" y1="287.80" x2="222.51" y2="287.80" stroke="#000" stroke-width="1.0"/>
<line x1="219.31" y1="265.64" x2="222.51" y2="265.64" stroke="#000" stroke-width="1.0"/>
<line x1="219.31" y1="243.48" x2="222.51" y2="243.48" stroke="#000" stroke-width="1.0"/>
<line x1="219.31" y1="221.32" x2="222.51" y2="221.32" stroke="#000" stroke-width="1.0"/>
<line x1="219.31" y1="199.16" x2="222.51" y2="199.16" stroke="#000" stroke-width="1.0"/>
<line x1="219.31" y1="177.00" x2="222.51" y2="177.00" stroke="#000" stroke-width="1.0"/>
<text font-family="Liberation Sans, sans-serif" x="228.70" y="322.40" font-size="8.6" text-anchor="middle" textLength="12.0" lengthAdjust="spacingAndGlyphs" stroke="#000" stroke-width="0.22">−4</text>
<text font-family="Liberation Sans, sans-serif" x="241.08" y="322.40" font-size="8.6" text-anchor="middle" textLength="12.0" lengthAdjust="spacingAndGlyphs" stroke="#000" stroke-width="0.22">−2</text>
<text font-family="Liberation Sans, sans-serif" x="253.46" y="322.40" font-size="8.6" text-anchor="middle" textLength="5.2" lengthAdjust="spacingAndGlyphs" stroke="#000" stroke-width="0.22">0</text>
<text font-family="Liberation Sans, sans-serif" x="265.83" y="322.40" font-size="8.6" text-anchor="middle" textLength="5.2" lengthAdjust="spacingAndGlyphs" stroke="#000" stroke-width="0.22">2</text>
<text font-family="Liberation Sans, sans-serif" x="278.21" y="322.40" font-size="8.6" text-anchor="middle" textLength="5.2" lengthAdjust="spacingAndGlyphs" stroke="#000" stroke-width="0.22">4</text>
<text font-family="Liberation Sans, sans-serif" x="278.20" y="190.50" font-size="8.2" text-anchor="end" fill="#111" textLength="14.5" lengthAdjust="spacingAndGlyphs" stroke="#111" stroke-width="0.18">1.0"</text>
<line x1="315.34" y1="177.00" x2="315.34" y2="309.90" stroke="#a5a5a5" stroke-width="1.2"/>
<g clip-path="url(#c1_4)" fill="none" stroke-linejoin="round">
<polyline points="283.4,284.2 284.1,284.5 284.8,286.0 285.5,288.8 286.2,286.4 286.9,286.9 287.6,284.5 288.3,281.6 289.0,285.2 289.7,287.0 290.4,287.7 291.1,285.6 291.8,285.8 292.5,287.5 293.2,285.2 293.9,287.4 294.6,283.3 295.3,283.3 296.0,283.2 296.7,285.9 297.4,284.0 298.1,285.1 298.8,285.3 299.5,284.6 300.2,285.2 300.9,277.9 301.6,263.2 302.3,253.7 303.0,245.1 303.7,235.6 304.4,220.2 305.1,205.5 305.8,197.0 306.5,192.4 307.2,190.6 307.9,188.3 308.6,188.9 309.3,191.4 310.0,193.7 310.7,198.3 311.4,216.8 312.1,249.0 312.8,274.6 313.5,285.0 314.2,288.4 314.9,294.0 315.6,295.8 316.3,298.2 317.0,298.2 317.7,300.7 318.4,298.2 319.1,296.3 319.8,287.5 320.5,274.9 321.2,268.8 321.9,270.5 322.6,274.4 323.3,275.2 324.0,277.7 324.7,280.3 325.4,282.1 326.1,283.4 326.8,283.7 327.5,285.2 328.2,286.2 328.9,285.4 329.6,286.7 330.3,287.2 331.0,285.0 331.7,283.3 332.4,287.7 333.1,284.9 333.8,286.1 334.5,286.7 335.2,283.4 335.9,285.8 336.6,282.2 337.3,286.3 338.0,284.2 338.7,285.3 339.4,286.3 340.1,283.8 340.8,285.2 341.5,283.8 342.2,285.0 342.9,286.9 343.6,285.1 344.3,284.8 345.0,283.2 345.7,286.5 346.4,285.0 347.1,288.0" stroke="#1f77b4" stroke-width="1.9"/>
<polyline points="283.4,287.8 293.0,287.8 293.3,287.7 299.6,287.7 299.9,287.6 302.3,287.6 302.6,287.5 302.9,287.3 303.2,287.1 303.5,286.8 303.8,286.5 304.1,286.2 304.4,285.4 304.7,284.3 305.0,282.9 305.3,281.1 305.6,279.0 305.9,275.7 306.2,271.3 306.5,266.2 306.8,260.8 307.1,254.5 307.4,247.0 307.7,239.4 308.0,232.8 308.3,226.4 308.6,220.0 308.9,215.5 309.2,214.7 309.5,216.7 309.8,220.3 310.1,224.8 310.4,229.4 310.7,235.3 311.0,242.3 311.3,249.4 311.6,255.8 311.9,261.6 312.2,267.2 312.5,272.5 312.8,277.2 313.1,281.0 313.4,284.4 313.7,287.5 314.0,290.1 314.3,291.8 314.6,293.0 314.9,294.1 315.2,295.1 315.5,295.8 315.8,296.3 316.1,296.5 316.4,296.3 316.7,295.8 317.0,294.9 317.3,293.9 317.6,292.7 317.9,291.3 318.2,289.0 318.5,285.9 318.8,282.3 319.1,278.5 319.4,273.5 319.7,267.7 320.0,261.8 320.3,256.6 320.6,252.6 320.9,248.7 321.2,245.1 321.5,242.5 321.8,241.5 322.1,242.3 322.4,244.5 322.7,247.5 323.0,250.8 323.3,255.2 323.6,261.0 323.9,267.0 324.2,271.8 324.5,275.7 324.8,279.5 325.1,282.7 325.4,285.0 325.7,286.0 326.0,286.6 326.3,287.1 326.6,287.4 326.9,287.6 329.0,287.6 329.3,287.7 335.9,287.7 336.2,287.8 347.0,287.8" stroke="#ff7f0e" stroke-width="1.6"/>
<polyline points="283.4,287.8 299.9,287.8 300.2,287.7 300.5,287.7 300.8,287.6 301.1,287.5 301.4,287.3 301.7,287.0 302.0,286.7 302.3,286.1 302.6,285.4 302.9,284.5 303.2,283.4 303.5,282.0 303.8,280.4 304.1,278.7 304.4,276.7 304.7,274.8 305.0,272.8 305.3,271.1 305.6,269.6 305.9,268.5 306.2,267.9 306.5,267.9 306.8,269.2 307.1,271.7 307.4,275.0 307.7,278.4 308.0,281.4 308.3,283.8 308.6,285.5 308.9,286.7 309.2,287.5 309.5,288.4 309.8,289.6 310.1,291.2 310.4,292.8 310.7,294.0 311.0,294.2 311.3,293.3 311.6,291.8 311.9,290.2 312.2,289.0 312.5,288.3 312.8,288.0 313.1,287.9 313.4,287.8 318.2,287.8 318.5,287.7 318.8,287.6 319.1,287.1 319.4,286.3 319.7,285.3 320.0,284.7 320.3,284.8 320.6,285.8 320.9,286.9 321.2,287.9 321.5,288.7 321.8,289.7 322.1,291.1 322.4,293.0 322.7,295.4 323.0,298.3 323.3,301.2 323.6,303.8 323.9,305.6 324.2,306.2 324.5,305.8 324.8,304.6 325.1,302.8 325.4,300.6 325.7,298.3 326.0,296.0 326.3,293.9 326.6,292.2 326.9,290.8 327.2,289.7 327.5,289.0 327.8,288.5 328.1,288.2 328.4,288.0 328.7,287.9 329.0,287.9 329.3,287.8 347.0,287.8" stroke="#bf00bf" stroke-width="1.5" stroke-opacity="1.0"/>
</g>
<line x1="290.59" y1="309.90" x2="290.59" y2="313.10" stroke="#000" stroke-width="1.0"/>
<line x1="302.97" y1="309.90" x2="302.97" y2="313.10" stroke="#000" stroke-width="1.0"/>
<line x1="315.34" y1="309.90" x2="315.34" y2="313.10" stroke="#000" stroke-width="1.0"/>
<line x1="327.72" y1="309.90" x2="327.72" y2="313.10" stroke="#000" stroke-width="1.0"/>
<line x1="340.10" y1="309.90" x2="340.10" y2="313.10" stroke="#000" stroke-width="1.0"/>
<line x1="281.20" y1="309.96" x2="284.40" y2="309.96" stroke="#000" stroke-width="1.0"/>
<line x1="281.20" y1="287.80" x2="284.40" y2="287.80" stroke="#000" stroke-width="1.0"/>
<line x1="281.20" y1="265.64" x2="284.40" y2="265.64" stroke="#000" stroke-width="1.0"/>
<line x1="281.20" y1="243.48" x2="284.40" y2="243.48" stroke="#000" stroke-width="1.0"/>
<line x1="281.20" y1="221.32" x2="284.40" y2="221.32" stroke="#000" stroke-width="1.0"/>
<line x1="281.20" y1="199.16" x2="284.40" y2="199.16" stroke="#000" stroke-width="1.0"/>
<line x1="281.20" y1="177.00" x2="284.40" y2="177.00" stroke="#000" stroke-width="1.0"/>
<text font-family="Liberation Sans, sans-serif" x="290.59" y="322.40" font-size="8.6" text-anchor="middle" textLength="12.0" lengthAdjust="spacingAndGlyphs" stroke="#000" stroke-width="0.22">−4</text>
<text font-family="Liberation Sans, sans-serif" x="302.97" y="322.40" font-size="8.6" text-anchor="middle" textLength="12.0" lengthAdjust="spacingAndGlyphs" stroke="#000" stroke-width="0.22">−2</text>
<text font-family="Liberation Sans, sans-serif" x="315.34" y="322.40" font-size="8.6" text-anchor="middle" textLength="5.2" lengthAdjust="spacingAndGlyphs" stroke="#000" stroke-width="0.22">0</text>
<text font-family="Liberation Sans, sans-serif" x="327.72" y="322.40" font-size="8.6" text-anchor="middle" textLength="5.2" lengthAdjust="spacingAndGlyphs" stroke="#000" stroke-width="0.22">2</text>
<text font-family="Liberation Sans, sans-serif" x="340.10" y="322.40" font-size="8.6" text-anchor="middle" textLength="5.2" lengthAdjust="spacingAndGlyphs" stroke="#000" stroke-width="0.22">4</text>
<text font-family="Liberation Sans, sans-serif" x="340.08" y="190.50" font-size="8.2" text-anchor="end" fill="#111" textLength="14.5" lengthAdjust="spacingAndGlyphs" stroke="#111" stroke-width="0.18">0.5"</text>
<line x1="377.23" y1="177.00" x2="377.23" y2="309.90" stroke="#a5a5a5" stroke-width="1.2"/>
<g clip-path="url(#c1_5)" fill="none" stroke-linejoin="round">
<polyline points="345.3,281.1 346.0,284.2 346.7,285.5 347.4,282.4 348.1,280.2 348.8,285.0 349.5,284.2 350.2,283.5 350.9,284.2 351.6,281.5 352.3,283.6 353.0,283.4 353.7,281.0 354.4,283.4 355.1,281.3 355.8,283.8 356.5,284.1 357.2,285.1 357.9,278.2 358.6,281.8 359.3,280.3 360.0,280.0 360.7,278.8 361.4,276.9 362.1,272.5 362.8,270.3 363.5,265.6 364.2,260.7 364.9,256.4 365.6,250.5 366.3,245.7 367.0,242.2 367.7,238.0 368.4,233.0 369.1,227.5 369.8,225.9 370.5,219.1 371.2,215.6 371.9,214.1 372.6,218.4 373.3,238.1 374.0,311.6 374.7,368.4 375.4,366.9 376.1,367.3 376.8,368.1 377.5,368.3 378.2,369.0 378.9,368.0 379.6,367.8 380.3,367.9 381.0,367.9 381.7,282.4 382.4,263.5 383.1,252.5 383.8,248.6 384.5,250.5 385.2,255.3 385.9,261.6 386.6,266.2 387.3,270.6 388.0,274.1 388.7,276.3 389.4,279.0 390.1,278.9 390.8,281.7 391.5,282.4 392.2,283.6 392.9,284.7 393.6,285.1 394.3,283.9 395.0,284.5 395.7,283.1 396.4,283.5 397.1,285.9 397.8,283.3 398.5,285.8 399.2,284.5 399.9,283.8 400.6,286.8 401.3,282.2 402.0,281.4 402.7,281.6 403.4,282.5 404.1,283.4 404.8,285.2 405.5,284.0 406.2,284.6 406.9,283.5 407.6,285.9 408.3,283.3 409.0,283.5" stroke="#1f77b4" stroke-width="1.9"/>
<polyline points="345.3,287.8 346.5,287.8 346.8,287.7 350.4,287.7 350.7,287.6 352.2,287.6 352.5,287.5 352.8,287.5 353.1,287.4 353.4,287.3 353.7,287.1 354.0,287.0 354.3,286.9 354.6,286.7 354.9,286.5 355.2,286.3 355.5,286.0 355.8,285.8 356.1,285.5 356.4,285.3 356.7,285.0 357.0,284.7 357.3,284.4 357.6,284.1 357.9,283.7 358.2,283.4 358.5,282.9 358.8,282.5 359.1,282.0 359.4,281.5 359.7,280.9 360.0,280.3 360.3,279.7 360.6,279.0 360.9,278.2 361.2,277.3 361.5,276.3 361.8,275.3 362.1,274.2 362.4,272.8 362.7,271.2 363.0,268.9 363.3,265.8 363.6,262.4 363.9,259.0 364.2,255.9 364.5,252.9 364.8,249.9 365.1,246.9 365.4,243.9 365.7,240.8 366.0,237.9 366.3,235.4 366.6,233.4 366.9,231.7 367.2,230.1 367.5,228.8 367.8,227.6 368.1,226.5 368.4,225.5 368.7,224.6 369.0,223.8 369.3,223.1 369.6,222.5 369.9,221.9 370.2,221.4 370.5,221.0 370.8,220.9 371.1,221.3 371.4,222.5 371.7,224.8 372.0,233.4 372.3,247.9 372.6,267.9 372.9,294.4 373.2,367.4 373.5,367.8 382.2,367.8 382.5,341.1 382.8,288.5 383.1,281.9 383.4,278.7 383.7,276.7 384.0,274.3 384.3,272.1 384.6,270.2 384.9,268.9 385.2,267.8 385.5,266.9 385.8,266.2 386.1,265.9 386.4,266.2 386.7,266.9 387.0,268.0 387.3,269.2 387.6,271.0 387.9,273.2 388.2,275.5 388.5,277.3 388.8,278.8 389.1,280.2 389.4,281.4 389.7,282.5 390.0,283.5 390.3,284.3 390.6,285.1 390.9,285.6 391.2,286.1 391.5,286.5 391.8,286.8 392.1,287.0 392.4,287.2 392.7,287.4 393.0,287.5 393.3,287.6 393.6,287.7 398.1,287.7 398.4,287.8 408.9,287.8" stroke="#ff7f0e" stroke-width="1.6"/>
<polyline points="345.3,287.8 408.9,287.8" stroke="#bf00bf" stroke-width="1.5" stroke-opacity="1.0"/>
</g>
<line x1="352.47" y1="309.90" x2="352.47" y2="313.10" stroke="#000" stroke-width="1.0"/>
<line x1="364.85" y1="309.90" x2="364.85" y2="313.10" stroke="#000" stroke-width="1.0"/>
<line x1="377.23" y1="309.90" x2="377.23" y2="313.10" stroke="#000" stroke-width="1.0"/>
<line x1="389.60" y1="309.90" x2="389.60" y2="313.10" stroke="#000" stroke-width="1.0"/>
<line x1="401.98" y1="309.90" x2="401.98" y2="313.10" stroke="#000" stroke-width="1.0"/>
<line x1="343.09" y1="309.96" x2="346.29" y2="309.96" stroke="#000" stroke-width="1.0"/>
<line x1="343.09" y1="287.80" x2="346.29" y2="287.80" stroke="#000" stroke-width="1.0"/>
<line x1="343.09" y1="265.64" x2="346.29" y2="265.64" stroke="#000" stroke-width="1.0"/>
<line x1="343.09" y1="243.48" x2="346.29" y2="243.48" stroke="#000" stroke-width="1.0"/>
<line x1="343.09" y1="221.32" x2="346.29" y2="221.32" stroke="#000" stroke-width="1.0"/>
<line x1="343.09" y1="199.16" x2="346.29" y2="199.16" stroke="#000" stroke-width="1.0"/>
<line x1="343.09" y1="177.00" x2="346.29" y2="177.00" stroke="#000" stroke-width="1.0"/>
<text font-family="Liberation Sans, sans-serif" x="352.47" y="322.40" font-size="8.6" text-anchor="middle" textLength="12.0" lengthAdjust="spacingAndGlyphs" stroke="#000" stroke-width="0.22">−4</text>
<text font-family="Liberation Sans, sans-serif" x="364.85" y="322.40" font-size="8.6" text-anchor="middle" textLength="12.0" lengthAdjust="spacingAndGlyphs" stroke="#000" stroke-width="0.22">−2</text>
<text font-family="Liberation Sans, sans-serif" x="377.23" y="322.40" font-size="8.6" text-anchor="middle" textLength="5.2" lengthAdjust="spacingAndGlyphs" stroke="#000" stroke-width="0.22">0</text>
<text font-family="Liberation Sans, sans-serif" x="389.60" y="322.40" font-size="8.6" text-anchor="middle" textLength="5.2" lengthAdjust="spacingAndGlyphs" stroke="#000" stroke-width="0.22">2</text>
<text font-family="Liberation Sans, sans-serif" x="401.98" y="322.40" font-size="8.6" text-anchor="middle" textLength="5.2" lengthAdjust="spacingAndGlyphs" stroke="#000" stroke-width="0.22">4</text>
<text font-family="Liberation Sans, sans-serif" x="401.97" y="190.50" font-size="8.2" text-anchor="end" fill="#111" textLength="14.5" lengthAdjust="spacingAndGlyphs" stroke="#111" stroke-width="0.18">0.0"</text>
<line x1="439.11" y1="177.00" x2="439.11" y2="309.90" stroke="#a5a5a5" stroke-width="1.2"/>
<g clip-path="url(#c1_6)" fill="none" stroke-linejoin="round">
<polyline points="407.2,287.5 407.9,288.1 408.6,286.3 409.3,290.3 410.0,286.4 410.7,286.8 411.4,286.8 412.1,286.6 412.8,288.4 413.5,287.7 414.2,286.1 414.9,286.5 415.6,286.8 416.3,289.9 417.0,286.2 417.7,285.1 418.4,285.4 419.1,286.7 419.8,289.9 420.5,285.4 421.2,287.4 421.9,291.7 422.6,286.4 423.3,289.7 424.0,289.4 424.7,288.2 425.4,284.6 426.1,286.7 426.8,283.9 427.5,276.9 428.2,273.2 428.9,266.1 429.6,257.5 430.3,249.5 431.0,240.4 431.7,229.9 432.4,217.6 433.1,204.9 433.8,191.3 434.5,183.8 435.2,198.5 435.9,235.9 436.6,273.7 437.3,293.4 438.0,302.3 438.7,299.6 439.4,298.1 440.1,299.3 440.8,299.6 441.5,297.9 442.2,298.1 442.9,284.2 443.6,249.8 444.3,232.0 445.0,228.3 445.7,234.9 446.4,240.9 447.1,245.4 447.8,251.0 448.5,256.0 449.2,261.2 449.9,268.3 450.6,276.3 451.3,286.4 452.0,282.5 452.7,282.5 453.4,283.9 454.1,283.3 454.8,284.7 455.5,286.4 456.2,286.5 456.9,285.6 457.6,288.0 458.3,287.1 459.0,285.4 459.7,283.5 460.4,287.3 461.1,287.1 461.8,286.6 462.5,284.6 463.2,287.1 463.9,284.4 464.6,288.7 465.3,287.3 466.0,287.4 466.7,285.6 467.4,285.1 468.1,289.7 468.8,288.6 469.5,286.4 470.2,288.2 470.9,289.7" stroke="#1f77b4" stroke-width="1.9"/>
<polyline points="407.2,287.8 412.6,287.8 412.9,287.7 419.2,287.7 419.5,287.6 423.4,287.6 423.7,287.5 425.2,287.5 425.5,287.3 425.8,287.1 426.1,286.8 426.4,286.4 426.7,285.9 427.0,284.7 427.3,282.4 427.6,279.4 427.9,276.1 428.2,273.0 428.5,269.3 428.8,265.3 429.1,261.2 429.4,257.4 429.7,253.9 430.0,250.6 430.3,247.4 430.6,244.3 430.9,241.2 431.2,237.9 431.5,234.4 431.8,230.9 432.1,227.8 432.4,225.2 432.7,222.8 433.0,220.6 433.3,219.3 433.6,219.4 433.9,221.3 434.2,224.4 434.5,228.1 434.8,232.4 435.1,238.6 435.4,245.9 435.7,253.1 436.0,259.2 436.3,265.0 436.6,270.5 436.9,275.7 437.2,280.6 437.5,285.6 437.8,289.8 438.1,292.2 438.4,293.7 438.7,295.0 439.0,296.0 439.3,296.4 439.6,296.4 439.9,295.8 440.2,294.8 440.5,293.4 440.8,292.0 441.1,290.0 441.4,287.2 441.7,283.8 442.0,280.2 442.3,275.9 442.6,270.7 442.9,265.1 443.2,259.6 443.5,254.6 443.8,250.6 444.1,246.7 444.4,243.2 444.7,240.2 445.0,238.0 445.3,236.3 445.6,234.8 445.9,233.5 446.2,232.6 446.5,232.2 446.8,233.0 447.1,235.4 447.4,238.5 447.7,241.8 448.0,246.2 448.3,251.1 448.6,255.9 448.9,261.0 449.2,266.1 449.5,270.9 449.8,274.6 450.1,277.8 450.4,280.8 450.7,283.2 451.0,284.7 451.3,285.6 451.6,286.4 451.9,287.0 452.2,287.4 452.5,287.6 454.6,287.6 454.9,287.7 461.2,287.7 461.5,287.8 470.8,287.8" stroke="#ff7f0e" stroke-width="1.6"/>
<polyline points="407.2,287.8 423.4,287.8 423.7,287.9 424.0,287.9 424.3,288.0 424.6,288.1 424.9,288.3 425.2,288.6 425.5,289.0 425.8,289.6 426.1,290.3 426.4,291.2 426.7,292.4 427.0,293.8 427.3,295.4 427.6,297.1 427.9,299.0 428.2,301.0 428.5,302.8 428.8,304.5 429.1,305.8 429.4,306.8 429.7,307.3 430.0,307.1 430.3,305.9 430.6,303.7 430.9,300.9 431.2,298.0 431.5,295.2 431.8,292.9 432.1,291.1 432.4,289.8 432.7,288.9 433.0,288.3 433.3,287.7 433.6,287.0 433.9,286.0 434.2,284.6 434.5,283.2 434.8,282.4 435.1,282.5 435.4,283.6 435.7,285.2 436.0,286.5 436.3,287.3 436.6,287.6 436.9,287.8 442.9,287.8 443.2,287.7 443.5,287.6 443.8,287.5 444.1,287.2 444.4,286.7 444.7,286.0 445.0,284.9 445.3,283.5 445.6,281.6 445.9,279.3 446.2,276.7 446.5,274.1 446.8,271.7 447.1,269.8 447.4,268.6 447.7,268.3 448.0,269.3 448.3,271.4 448.6,274.3 448.9,277.4 449.2,280.4 449.5,282.8 449.8,284.7 450.1,286.0 450.4,286.8 450.7,287.3 451.0,287.6 451.3,287.7 451.6,287.8 470.8,287.8" stroke="#bf00bf" stroke-width="1.5" stroke-opacity="1.0"/>
</g>
<line x1="414.36" y1="309.90" x2="414.36" y2="313.10" stroke="#000" stroke-width="1.0"/>
<line x1="426.74" y1="309.90" x2="426.74" y2="313.10" stroke="#000" stroke-width="1.0"/>
<line x1="439.11" y1="309.90" x2="439.11" y2="313.10" stroke="#000" stroke-width="1.0"/>
<line x1="451.49" y1="309.90" x2="451.49" y2="313.10" stroke="#000" stroke-width="1.0"/>
<line x1="463.87" y1="309.90" x2="463.87" y2="313.10" stroke="#000" stroke-width="1.0"/>
<line x1="404.97" y1="309.96" x2="408.17" y2="309.96" stroke="#000" stroke-width="1.0"/>
<line x1="404.97" y1="287.80" x2="408.17" y2="287.80" stroke="#000" stroke-width="1.0"/>
<line x1="404.97" y1="265.64" x2="408.17" y2="265.64" stroke="#000" stroke-width="1.0"/>
<line x1="404.97" y1="243.48" x2="408.17" y2="243.48" stroke="#000" stroke-width="1.0"/>
<line x1="404.97" y1="221.32" x2="408.17" y2="221.32" stroke="#000" stroke-width="1.0"/>
<line x1="404.97" y1="199.16" x2="408.17" y2="199.16" stroke="#000" stroke-width="1.0"/>
<line x1="404.97" y1="177.00" x2="408.17" y2="177.00" stroke="#000" stroke-width="1.0"/>
<text font-family="Liberation Sans, sans-serif" x="414.36" y="322.40" font-size="8.6" text-anchor="middle" textLength="12.0" lengthAdjust="spacingAndGlyphs" stroke="#000" stroke-width="0.22">−4</text>
<text font-family="Liberation Sans, sans-serif" x="426.74" y="322.40" font-size="8.6" text-anchor="middle" textLength="12.0" lengthAdjust="spacingAndGlyphs" stroke="#000" stroke-width="0.22">−2</text>
<text font-family="Liberation Sans, sans-serif" x="439.11" y="322.40" font-size="8.6" text-anchor="middle" textLength="5.2" lengthAdjust="spacingAndGlyphs" stroke="#000" stroke-width="0.22">0</text>
<text font-family="Liberation Sans, sans-serif" x="451.49" y="322.40" font-size="8.6" text-anchor="middle" textLength="5.2" lengthAdjust="spacingAndGlyphs" stroke="#000" stroke-width="0.22">2</text>
<text font-family="Liberation Sans, sans-serif" x="463.87" y="322.40" font-size="8.6" text-anchor="middle" textLength="5.2" lengthAdjust="spacingAndGlyphs" stroke="#000" stroke-width="0.22">4</text>
<text font-family="Liberation Sans, sans-serif" x="463.86" y="190.50" font-size="8.2" text-anchor="end" fill="#111" textLength="17.0" lengthAdjust="spacingAndGlyphs" stroke="#111" stroke-width="0.18">-0.5"</text>
<line x1="501.00" y1="177.00" x2="501.00" y2="309.90" stroke="#a5a5a5" stroke-width="1.2"/>
<g clip-path="url(#c1_7)" fill="none" stroke-linejoin="round">
<polyline points="469.1,285.9 469.8,286.9 470.5,286.9 471.2,288.7 471.9,285.9 472.6,288.2 473.3,285.8 474.0,289.4 474.7,289.3 475.4,287.4 476.1,289.1 476.8,286.6 477.5,287.3 478.2,289.5 478.9,287.7 479.6,288.4 480.3,286.2 481.0,288.9 481.7,288.6 482.4,284.7 483.1,280.8 483.8,283.6 484.5,287.7 485.2,287.4 485.9,285.0 486.6,288.0 487.3,289.6 488.0,287.6 488.7,287.0 489.4,289.1 490.1,290.2 490.8,288.8 491.5,282.4 492.2,278.7 492.9,268.9 493.6,255.2 494.3,239.3 495.0,226.4 495.7,219.2 496.4,228.6 497.1,254.0 497.8,276.0 498.5,283.7 499.2,292.4 499.9,296.5 500.6,292.7 501.3,290.3 502.0,291.6 502.7,295.6 503.4,291.1 504.1,288.6 504.8,283.2 505.5,286.1 506.2,288.0 506.9,286.5 507.6,284.1 508.3,288.2 509.0,288.5 509.7,285.6 510.4,286.9 511.1,286.6 511.8,288.7 512.5,284.3 513.2,284.7 513.9,286.8 514.6,286.6 515.3,291.4 516.0,286.7 516.7,288.1 517.4,287.0 518.1,286.6 518.8,288.4 519.5,290.8 520.2,287.1 520.9,289.1 521.6,288.4 522.3,288.9 523.0,288.4 523.7,292.0 524.4,285.6 525.1,287.3 525.8,285.8 526.5,284.2 527.2,287.8 527.9,291.0 528.6,289.4 529.3,290.0 530.0,288.7 530.7,287.7 531.4,291.4 532.1,287.2 532.8,290.5" stroke="#1f77b4" stroke-width="1.9"/>
<polyline points="469.1,287.8 490.4,287.8 490.7,287.7 491.0,287.7 491.3,287.6 491.6,287.5 491.9,287.2 492.2,286.8 492.5,286.1 492.8,284.9 493.1,283.2 493.4,280.7 493.7,277.1 494.0,272.1 494.3,265.7 494.6,257.9 494.9,248.9 495.2,239.5 495.5,230.9 495.8,225.5 496.1,233.7 496.4,242.3 496.7,249.4 497.0,255.5 497.3,260.5 497.6,264.8 497.9,268.4 498.2,271.4 498.5,273.9 498.8,276.0 499.1,277.7 499.4,279.2 499.7,280.4 500.0,281.3 500.3,282.1 500.6,282.7 500.9,283.2 501.2,283.5 501.5,283.7 501.8,283.8 502.1,283.8 502.4,283.6 502.7,283.3 503.0,282.9 503.3,282.4 503.6,281.6 503.9,280.7 504.2,279.6 504.5,278.3 504.8,276.7 505.1,274.7 505.4,272.4 505.7,269.6 506.0,266.3 506.3,262.4 506.6,257.7 506.9,252.1 507.2,245.5 507.5,237.7 507.8,228.4 508.1,230.0 508.4,237.2 508.7,245.8 509.0,254.4 509.3,262.3 509.6,269.0 509.9,274.4 510.2,278.5 510.5,281.6 510.8,283.7 511.1,285.2 511.4,286.2 511.7,286.8 512.0,287.2 512.3,287.5 512.6,287.6 512.9,287.7 513.2,287.7 513.5,287.8 532.7,287.8" stroke="#ff7f0e" stroke-width="1.6"/>
<polyline points="469.1,287.8 489.5,287.8 489.8,287.9 490.1,288.0 490.4,288.1 490.7,288.5 491.0,289.2 491.3,290.3 491.6,291.9 491.9,294.2 492.2,297.1 492.5,300.4 492.8,303.7 493.1,306.5 493.4,308.3 493.7,308.8 494.0,307.0 494.3,303.4 494.6,298.9 494.9,294.8 495.2,291.6 495.5,289.3 495.8,287.5 496.1,285.8 496.4,284.1 496.7,282.7 497.0,282.3 497.3,283.1 497.6,284.6 497.9,286.0 498.2,287.0 498.5,287.5 498.8,287.7 499.1,287.8 503.0,287.8 503.3,287.9 503.6,288.2 503.9,288.7 504.2,289.6 504.5,291.0 504.8,292.3 505.1,293.2 505.4,293.1 505.7,291.9 506.0,290.0 506.3,287.9 506.6,285.6 506.9,282.6 507.2,278.6 507.5,273.8 507.8,269.1 508.1,265.7 508.4,264.8 508.7,266.7 509.0,270.7 509.3,275.6 509.6,280.1 509.9,283.5 510.2,285.7 510.5,286.9 510.8,287.5 511.1,287.7 511.4,287.8 532.7,287.8" stroke="#bf00bf" stroke-width="1.5" stroke-opacity="1.0"/>
</g>
<line x1="476.24" y1="309.90" x2="476.24" y2="313.10" stroke="#000" stroke-width="1.0"/>
<line x1="488.62" y1="309.90" x2="488.62" y2="313.10" stroke="#000" stroke-width="1.0"/>
<line x1="501.00" y1="309.90" x2="501.00" y2="313.10" stroke="#000" stroke-width="1.0"/>
<line x1="513.37" y1="309.90" x2="513.37" y2="313.10" stroke="#000" stroke-width="1.0"/>
<line x1="525.75" y1="309.90" x2="525.75" y2="313.10" stroke="#000" stroke-width="1.0"/>
<line x1="466.86" y1="309.96" x2="470.06" y2="309.96" stroke="#000" stroke-width="1.0"/>
<line x1="466.86" y1="287.80" x2="470.06" y2="287.80" stroke="#000" stroke-width="1.0"/>
<line x1="466.86" y1="265.64" x2="470.06" y2="265.64" stroke="#000" stroke-width="1.0"/>
<line x1="466.86" y1="243.48" x2="470.06" y2="243.48" stroke="#000" stroke-width="1.0"/>
<line x1="466.86" y1="221.32" x2="470.06" y2="221.32" stroke="#000" stroke-width="1.0"/>
<line x1="466.86" y1="199.16" x2="470.06" y2="199.16" stroke="#000" stroke-width="1.0"/>
<line x1="466.86" y1="177.00" x2="470.06" y2="177.00" stroke="#000" stroke-width="1.0"/>
<text font-family="Liberation Sans, sans-serif" x="476.24" y="322.40" font-size="8.6" text-anchor="middle" textLength="12.0" lengthAdjust="spacingAndGlyphs" stroke="#000" stroke-width="0.22">−4</text>
<text font-family="Liberation Sans, sans-serif" x="488.62" y="322.40" font-size="8.6" text-anchor="middle" textLength="12.0" lengthAdjust="spacingAndGlyphs" stroke="#000" stroke-width="0.22">−2</text>
<text font-family="Liberation Sans, sans-serif" x="501.00" y="322.40" font-size="8.6" text-anchor="middle" textLength="5.2" lengthAdjust="spacingAndGlyphs" stroke="#000" stroke-width="0.22">0</text>
<text font-family="Liberation Sans, sans-serif" x="513.37" y="322.40" font-size="8.6" text-anchor="middle" textLength="5.2" lengthAdjust="spacingAndGlyphs" stroke="#000" stroke-width="0.22">2</text>
<text font-family="Liberation Sans, sans-serif" x="525.75" y="322.40" font-size="8.6" text-anchor="middle" textLength="5.2" lengthAdjust="spacingAndGlyphs" stroke="#000" stroke-width="0.22">4</text>
<text font-family="Liberation Sans, sans-serif" x="525.74" y="190.50" font-size="8.2" text-anchor="end" fill="#111" textLength="17.0" lengthAdjust="spacingAndGlyphs" stroke="#111" stroke-width="0.18">-1.0"</text>
<line x1="562.88" y1="177.00" x2="562.88" y2="309.90" stroke="#a5a5a5" stroke-width="1.2"/>
<g clip-path="url(#c1_8)" fill="none" stroke-linejoin="round">
<polyline points="530.9,287.3 531.6,288.0 532.3,288.4 533.0,287.9 533.7,288.8 534.4,288.9 535.1,290.8 535.8,287.9 536.5,284.5 537.2,284.2 537.9,285.4 538.6,286.5 539.3,289.0 540.0,285.2 540.7,287.9 541.4,287.9 542.1,288.3 542.8,287.6 543.5,288.6 544.2,288.0 544.9,289.8 545.6,288.5 546.3,283.7 547.0,287.9 547.7,288.2 548.4,286.8 549.1,286.5 549.8,289.8 550.5,288.2 551.2,286.1 551.9,287.3 552.6,287.6 553.3,285.0 554.0,289.0 554.7,287.6 555.4,288.4 556.1,282.3 556.8,276.5 557.5,256.7 558.2,243.9 558.9,256.7 559.6,274.0 560.3,281.1 561.0,290.0 561.7,287.5 562.4,290.5 563.1,291.5 563.8,288.7 564.5,290.3 565.2,291.8 565.9,288.5 566.6,290.5 567.3,289.0 568.0,287.1 568.7,287.2 569.4,284.9 570.1,288.2 570.8,290.6 571.5,289.2 572.2,289.5 572.9,290.0 573.6,287.0 574.3,289.0 575.0,291.4 575.7,286.5 576.4,288.0 577.1,287.2 577.8,287.6 578.5,286.7 579.2,287.7 579.9,285.6 580.6,287.0 581.3,287.1 582.0,287.1 582.7,290.4 583.4,288.1 584.1,288.3 584.8,287.4 585.5,290.2 586.2,284.9 586.9,287.6 587.6,290.0 588.3,290.9 589.0,288.3 589.7,288.0 590.4,289.1 591.1,287.6 591.8,289.0 592.5,286.8 593.2,289.1 593.9,287.9 594.6,286.0" stroke="#1f77b4" stroke-width="1.9"/>
<polyline points="530.9,287.8 553.7,287.8 554.0,287.7 554.3,287.7 554.6,287.5 554.9,287.3 555.2,286.8 555.5,285.9 555.8,284.5 556.1,282.1 556.4,278.5 556.7,273.3 557.0,266.5 557.3,258.3 557.6,249.7 557.9,242.7 558.2,244.4 558.5,251.1 558.8,256.7 559.1,261.4 559.4,265.4 559.7,268.8 560.0,271.6 560.3,274.0 560.6,276.0 560.9,277.7 561.2,279.0 561.5,280.2 561.8,281.1 562.1,281.8 562.4,282.3 562.7,282.7 563.0,283.0 563.3,283.1 563.6,283.1 563.9,282.9 564.2,282.6 564.5,282.2 564.8,281.6 565.1,280.8 565.4,279.9 565.7,278.7 566.0,277.2 566.3,275.5 566.6,273.4 566.9,270.9 567.2,268.0 567.5,264.4 567.8,260.2 568.1,255.3 568.4,249.4 568.7,242.4 569.0,245.5 569.3,255.7 569.6,266.0 569.9,274.4 570.2,280.2 570.5,283.8 570.8,285.8 571.1,286.9 571.4,287.4 571.7,287.6 572.0,287.7 572.3,287.8 594.5,287.8" stroke="#ff7f0e" stroke-width="1.6"/>
<polyline points="530.9,287.8 553.7,287.8 554.0,287.9 554.3,288.3 554.6,289.2 554.9,291.2 555.2,294.7 555.5,299.8 555.8,305.0 556.1,308.6 556.4,308.7 556.7,305.3 557.0,299.9 557.3,294.5 557.6,290.0 557.9,286.6 558.2,284.2 558.5,282.8 558.8,282.7 559.1,283.6 559.4,285.1 559.7,286.4 560.0,287.2 560.3,287.6 560.6,287.7 560.9,287.8 565.1,287.8 565.4,287.9 565.7,288.0 566.0,288.4 566.3,289.3 566.6,290.7 566.9,292.4 567.2,293.4 567.5,293.0 567.8,290.7 568.1,286.6 568.4,281.2 568.7,275.1 569.0,269.9 569.3,267.3 569.6,268.4 569.9,272.4 570.2,277.6 570.5,282.2 570.8,285.2 571.1,286.8 571.4,287.5 571.7,287.7 572.0,287.8 594.5,287.8" stroke="#bf00bf" stroke-width="1.5" stroke-opacity="1.0"/>
</g>
<line x1="538.13" y1="309.90" x2="538.13" y2="313.10" stroke="#000" stroke-width="1.0"/>
<line x1="550.51" y1="309.90" x2="550.51" y2="313.10" stroke="#000" stroke-width="1.0"/>
<line x1="562.88" y1="309.90" x2="562.88" y2="313.10" stroke="#000" stroke-width="1.0"/>
<line x1="575.26" y1="309.90" x2="575.26" y2="313.10" stroke="#000" stroke-width="1.0"/>
<line x1="587.64" y1="309.90" x2="587.64" y2="313.10" stroke="#000" stroke-width="1.0"/>
<line x1="528.74" y1="309.96" x2="531.94" y2="309.96" stroke="#000" stroke-width="1.0"/>
<line x1="528.74" y1="287.80" x2="531.94" y2="287.80" stroke="#000" stroke-width="1.0"/>
<line x1="528.74" y1="265.64" x2="531.94" y2="265.64" stroke="#000" stroke-width="1.0"/>
<line x1="528.74" y1="243.48" x2="531.94" y2="243.48" stroke="#000" stroke-width="1.0"/>
<line x1="528.74" y1="221.32" x2="531.94" y2="221.32" stroke="#000" stroke-width="1.0"/>
<line x1="528.74" y1="199.16" x2="531.94" y2="199.16" stroke="#000" stroke-width="1.0"/>
<line x1="528.74" y1="177.00" x2="531.94" y2="177.00" stroke="#000" stroke-width="1.0"/>
<text font-family="Liberation Sans, sans-serif" x="538.13" y="322.40" font-size="8.6" text-anchor="middle" textLength="12.0" lengthAdjust="spacingAndGlyphs" stroke="#000" stroke-width="0.22">−4</text>
<text font-family="Liberation Sans, sans-serif" x="550.51" y="322.40" font-size="8.6" text-anchor="middle" textLength="12.0" lengthAdjust="spacingAndGlyphs" stroke="#000" stroke-width="0.22">−2</text>
<text font-family="Liberation Sans, sans-serif" x="562.88" y="322.40" font-size="8.6" text-anchor="middle" textLength="5.2" lengthAdjust="spacingAndGlyphs" stroke="#000" stroke-width="0.22">0</text>
<text font-family="Liberation Sans, sans-serif" x="575.26" y="322.40" font-size="8.6" text-anchor="middle" textLength="5.2" lengthAdjust="spacingAndGlyphs" stroke="#000" stroke-width="0.22">2</text>
<text font-family="Liberation Sans, sans-serif" x="587.64" y="322.40" font-size="8.6" text-anchor="middle" textLength="5.2" lengthAdjust="spacingAndGlyphs" stroke="#000" stroke-width="0.22">4</text>
<text font-family="Liberation Sans, sans-serif" x="587.62" y="190.50" font-size="8.2" text-anchor="end" fill="#111" textLength="17.0" lengthAdjust="spacingAndGlyphs" stroke="#111" stroke-width="0.18">-1.5"</text>
<line x1="624.77" y1="177.00" x2="624.77" y2="309.90" stroke="#a5a5a5" stroke-width="1.2"/>
<g clip-path="url(#c1_9)" fill="none" stroke-linejoin="round">
<polyline points="592.8,283.2 593.5,289.6 594.2,288.6 594.9,289.3 595.6,286.4 596.3,289.9 597.0,288.7 597.7,287.9 598.4,289.6 599.1,289.5 599.8,288.7 600.5,291.6 601.2,290.4 601.9,288.5 602.6,287.5 603.3,288.1 604.0,291.0 604.7,288.6 605.4,286.4 606.1,286.8 606.8,287.9 607.5,289.4 608.2,286.7 608.9,288.8 609.6,289.9 610.3,289.2 611.0,285.2 611.7,287.4 612.4,285.7 613.1,288.7 613.8,286.1 614.5,288.9 615.2,288.1 615.9,283.3 616.6,286.4 617.3,288.7 618.0,287.9 618.7,286.3 619.4,279.0 620.1,266.5 620.8,257.5 621.5,270.7 622.2,282.5 622.9,288.2 623.6,288.8 624.3,288.8 625.0,286.5 625.7,289.8 626.4,286.2 627.1,284.0 627.8,286.4 628.5,287.3 629.2,287.5 629.9,284.6 630.6,289.5 631.3,288.0 632.0,287.0 632.7,286.5 633.4,288.6 634.1,287.2 634.8,288.3 635.5,287.6 636.2,288.0 636.9,289.9 637.6,287.8 638.3,286.2 639.0,289.5 639.7,288.2 640.4,286.6 641.1,289.7 641.8,287.5 642.5,289.7 643.2,285.8 643.9,283.6 644.6,284.2 645.3,288.2 646.0,286.5 646.7,287.6 647.4,287.6 648.1,285.0 648.8,290.2 649.5,285.9 650.2,287.9 650.9,285.3 651.6,287.5 652.3,289.0 653.0,287.3 653.7,286.5 654.4,287.7 655.1,286.9 655.8,288.7 656.5,291.6" stroke="#1f77b4" stroke-width="1.9"/>
<polyline points="592.8,287.8 616.5,287.8 616.8,287.7 617.1,287.7 617.4,287.5 617.7,287.1 618.0,286.4 618.3,284.9 618.6,282.2 618.9,277.9 619.2,271.6 619.5,263.7 619.8,255.6 620.1,251.7 620.4,257.2 620.7,262.0 621.0,265.9 621.3,269.2 621.6,272.0 621.9,274.4 622.2,276.3 622.5,277.9 622.8,279.3 623.1,280.4 623.4,281.2 623.7,281.9 624.0,282.4 624.3,282.8 624.6,283.0 624.9,283.1 625.2,283.0 625.5,282.8 625.8,282.5 626.1,282.0 626.4,281.4 626.7,280.5 627.0,279.4 627.3,278.1 627.6,276.6 627.9,274.7 628.2,272.4 628.5,269.6 628.8,266.4 629.1,262.5 629.4,257.9 629.7,252.4 630.0,254.1 630.3,262.1 630.6,270.3 630.9,276.9 631.2,281.6 631.5,284.5 631.8,286.2 632.1,287.0 632.4,287.4 632.7,287.6 633.0,287.7 633.3,287.8 656.4,287.8" stroke="#ff7f0e" stroke-width="1.6"/>
<polyline points="592.8,287.8 616.2,287.8 616.5,288.0 616.8,288.4 617.1,289.4 617.4,291.5 617.7,295.0 618.0,299.7 618.3,304.0 618.6,306.4 618.9,305.6 619.2,301.9 619.5,297.1 619.8,292.5 620.1,289.0 620.4,286.5 620.7,284.7 621.0,283.9 621.3,284.1 621.6,285.0 621.9,286.1 622.2,287.0 622.5,287.5 622.8,287.7 623.1,287.8 627.0,287.8 627.3,287.9 627.6,288.2 627.9,288.6 628.2,289.0 628.5,289.3 628.8,288.7 629.1,286.8 629.4,283.3 629.7,278.5 630.0,273.5 630.3,270.2 630.6,269.8 630.9,272.5 631.2,277.0 631.5,281.4 631.8,284.6 632.1,286.5 632.4,287.4 632.7,287.7 633.0,287.8 656.4,287.8" stroke="#bf00bf" stroke-width="1.5" stroke-opacity="1.0"/>
</g>
<line x1="600.01" y1="309.90" x2="600.01" y2="313.10" stroke="#000" stroke-width="1.0"/>
<line x1="612.39" y1="309.90" x2="612.39" y2="313.10" stroke="#000" stroke-width="1.0"/>
<line x1="624.77" y1="309.90" x2="624.77" y2="313.10" stroke="#000" stroke-width="1.0"/>
<line x1="637.14" y1="309.90" x2="637.14" y2="313.10" stroke="#000" stroke-width="1.0"/>
<line x1="649.52" y1="309.90" x2="649.52" y2="313.10" stroke="#000" stroke-width="1.0"/>
<line x1="590.62" y1="309.96" x2="593.83" y2="309.96" stroke="#000" stroke-width="1.0"/>
<line x1="590.62" y1="287.80" x2="593.83" y2="287.80" stroke="#000" stroke-width="1.0"/>
<line x1="590.62" y1="265.64" x2="593.83" y2="265.64" stroke="#000" stroke-width="1.0"/>
<line x1="590.62" y1="243.48" x2="593.83" y2="243.48" stroke="#000" stroke-width="1.0"/>
<line x1="590.62" y1="221.32" x2="593.83" y2="221.32" stroke="#000" stroke-width="1.0"/>
<line x1="590.62" y1="199.16" x2="593.83" y2="199.16" stroke="#000" stroke-width="1.0"/>
<line x1="590.62" y1="177.00" x2="593.83" y2="177.00" stroke="#000" stroke-width="1.0"/>
<text font-family="Liberation Sans, sans-serif" x="600.01" y="322.40" font-size="8.6" text-anchor="middle" textLength="12.0" lengthAdjust="spacingAndGlyphs" stroke="#000" stroke-width="0.22">−4</text>
<text font-family="Liberation Sans, sans-serif" x="612.39" y="322.40" font-size="8.6" text-anchor="middle" textLength="12.0" lengthAdjust="spacingAndGlyphs" stroke="#000" stroke-width="0.22">−2</text>
<text font-family="Liberation Sans, sans-serif" x="624.77" y="322.40" font-size="8.6" text-anchor="middle" textLength="5.2" lengthAdjust="spacingAndGlyphs" stroke="#000" stroke-width="0.22">0</text>
<text font-family="Liberation Sans, sans-serif" x="637.14" y="322.40" font-size="8.6" text-anchor="middle" textLength="5.2" lengthAdjust="spacingAndGlyphs" stroke="#000" stroke-width="0.22">2</text>
<text font-family="Liberation Sans, sans-serif" x="649.52" y="322.40" font-size="8.6" text-anchor="middle" textLength="5.2" lengthAdjust="spacingAndGlyphs" stroke="#000" stroke-width="0.22">4</text>
<text font-family="Liberation Sans, sans-serif" x="649.51" y="190.50" font-size="8.2" text-anchor="end" fill="#111" textLength="17.0" lengthAdjust="spacingAndGlyphs" stroke="#111" stroke-width="0.18">-2.0"</text>
<line x1="686.65" y1="177.00" x2="686.65" y2="309.90" stroke="#a5a5a5" stroke-width="1.2"/>
<g clip-path="url(#c1_10)" fill="none" stroke-linejoin="round">
<polyline points="654.7,286.2 655.4,286.5 656.1,287.5 656.8,287.7 657.5,285.9 658.2,288.6 658.9,289.1 659.6,288.1 660.3,285.7 661.0,290.3 661.7,285.7 662.4,289.0 663.1,289.8 663.8,285.5 664.5,288.0 665.2,290.1 665.9,288.4 666.6,286.1 667.3,285.7 668.0,288.6 668.7,287.1 669.4,286.5 670.1,289.0 670.8,287.2 671.5,287.9 672.2,288.8 672.9,288.7 673.6,287.7 674.3,287.7 675.0,288.8 675.7,288.6 676.4,285.8 677.1,287.4 677.8,286.2 678.5,285.6 679.2,286.7 679.9,283.7 680.6,289.3 681.3,285.6 682.0,283.6 682.7,277.9 683.4,282.8 684.1,291.7 684.8,293.4 685.5,293.1 686.2,289.3 686.9,286.9 687.6,287.9 688.3,287.0 689.0,286.6 689.7,287.9 690.4,286.0 691.1,291.9 691.8,286.7 692.5,289.7 693.2,286.1 693.9,288.2 694.6,289.4 695.3,287.1 696.0,289.4 696.7,289.4 697.4,290.6 698.1,287.8 698.8,286.9 699.5,286.0 700.2,288.1 700.9,285.9 701.6,287.8 702.3,288.0 703.0,286.8 703.7,285.9 704.4,288.4 705.1,288.2 705.8,288.1 706.5,287.7 707.2,289.4 707.9,285.9 708.6,288.5 709.3,287.0 710.0,289.3 710.7,287.2 711.4,287.1 712.1,288.6 712.8,284.2 713.5,287.1 714.2,284.6 714.9,286.1 715.6,289.0 716.3,288.5 717.0,287.0 717.7,287.7 718.4,287.7" stroke="#1f77b4" stroke-width="1.9"/>
<polyline points="654.7,287.8 679.6,287.8 679.9,287.7 680.2,287.6 680.5,287.2 680.8,286.4 681.1,284.8 681.4,282.1 681.7,278.1 682.0,273.5 682.3,270.7 682.6,273.2 682.9,275.4 683.2,277.2 683.5,278.7 683.8,280.0 684.1,281.1 684.4,282.0 684.7,282.8 685.0,283.4 685.3,283.9 685.6,284.3 685.9,284.6 686.2,284.9 686.5,285.0 686.8,285.1 687.1,285.1 687.4,285.0 687.7,284.9 688.0,284.7 688.3,284.4 688.6,284.0 688.9,283.5 689.2,282.9 689.5,282.1 689.8,281.2 690.1,280.1 690.4,278.8 690.7,277.3 691.0,275.5 691.3,273.3 691.6,270.7 691.9,271.5 692.2,275.7 692.5,280.0 692.8,283.2 693.1,285.4 693.4,286.6 693.7,287.3 694.0,287.6 694.3,287.7 694.6,287.7 694.9,287.8 718.3,287.8" stroke="#ff7f0e" stroke-width="1.6"/>
<polyline points="654.7,287.8 679.0,287.8 679.3,288.0 679.6,288.3 679.9,289.0 680.2,290.2 680.5,291.6 680.8,292.7 681.1,292.8 681.4,291.9 681.7,290.5 682.0,289.2 682.3,288.4 682.6,288.0 682.9,287.9 683.2,287.8 689.8,287.8 690.1,287.7 690.4,287.6 690.7,287.2 691.0,286.3 691.3,285.1 691.6,283.7 691.9,282.9 692.2,283.2 692.5,284.2 692.8,285.6 693.1,286.7 693.4,287.4 693.7,287.7 694.0,287.8 718.3,287.8" stroke="#bf00bf" stroke-width="1.5" stroke-opacity="1.0"/>
</g>
<line x1="661.90" y1="309.90" x2="661.90" y2="313.10" stroke="#000" stroke-width="1.0"/>
<line x1="674.28" y1="309.90" x2="674.28" y2="313.10" stroke="#000" stroke-width="1.0"/>
<line x1="686.65" y1="309.90" x2="686.65" y2="313.10" stroke="#000" stroke-width="1.0"/>
<line x1="699.03" y1="309.90" x2="699.03" y2="313.10" stroke="#000" stroke-width="1.0"/>
<line x1="711.41" y1="309.90" x2="711.41" y2="313.10" stroke="#000" stroke-width="1.0"/>
<line x1="652.51" y1="309.96" x2="655.71" y2="309.96" stroke="#000" stroke-width="1.0"/>
<line x1="652.51" y1="287.80" x2="655.71" y2="287.80" stroke="#000" stroke-width="1.0"/>
<line x1="652.51" y1="265.64" x2="655.71" y2="265.64" stroke="#000" stroke-width="1.0"/>
<line x1="652.51" y1="243.48" x2="655.71" y2="243.48" stroke="#000" stroke-width="1.0"/>
<line x1="652.51" y1="221.32" x2="655.71" y2="221.32" stroke="#000" stroke-width="1.0"/>
<line x1="652.51" y1="199.16" x2="655.71" y2="199.16" stroke="#000" stroke-width="1.0"/>
<line x1="652.51" y1="177.00" x2="655.71" y2="177.00" stroke="#000" stroke-width="1.0"/>
<text font-family="Liberation Sans, sans-serif" x="661.90" y="322.40" font-size="8.6" text-anchor="middle" textLength="12.0" lengthAdjust="spacingAndGlyphs" stroke="#000" stroke-width="0.22">−4</text>
<text font-family="Liberation Sans, sans-serif" x="674.28" y="322.40" font-size="8.6" text-anchor="middle" textLength="12.0" lengthAdjust="spacingAndGlyphs" stroke="#000" stroke-width="0.22">−2</text>
<text font-family="Liberation Sans, sans-serif" x="686.65" y="322.40" font-size="8.6" text-anchor="middle" textLength="5.2" lengthAdjust="spacingAndGlyphs" stroke="#000" stroke-width="0.22">0</text>
<text font-family="Liberation Sans, sans-serif" x="699.03" y="322.40" font-size="8.6" text-anchor="middle" textLength="5.2" lengthAdjust="spacingAndGlyphs" stroke="#000" stroke-width="0.22">2</text>
<text font-family="Liberation Sans, sans-serif" x="711.41" y="322.40" font-size="8.6" text-anchor="middle" textLength="5.2" lengthAdjust="spacingAndGlyphs" stroke="#000" stroke-width="0.22">4</text>
<text font-family="Liberation Sans, sans-serif" x="711.39" y="190.50" font-size="8.2" text-anchor="end" fill="#111" textLength="17.0" lengthAdjust="spacingAndGlyphs" stroke="#111" stroke-width="0.18">-2.5"</text>
<line x1="36.26" y1="177.00" x2="718.20" y2="177.00" stroke="#000" stroke-width="1.2"/>
<line x1="36.26" y1="309.90" x2="718.20" y2="309.90" stroke="#000" stroke-width="1.2"/>
<line x1="36.86" y1="177.00" x2="36.86" y2="309.90" stroke="#000" stroke-width="1.2"/>
<line x1="98.75" y1="177.00" x2="98.75" y2="309.90" stroke="#000" stroke-width="1.2"/>
<line x1="160.63" y1="177.00" x2="160.63" y2="309.90" stroke="#000" stroke-width="1.2"/>
<line x1="222.51" y1="177.00" x2="222.51" y2="309.90" stroke="#000" stroke-width="1.2"/>
<line x1="284.40" y1="177.00" x2="284.40" y2="309.90" stroke="#000" stroke-width="1.2"/>
<line x1="346.29" y1="177.00" x2="346.29" y2="309.90" stroke="#000" stroke-width="1.2"/>
<line x1="408.17" y1="177.00" x2="408.17" y2="309.90" stroke="#000" stroke-width="1.2"/>
<line x1="470.06" y1="177.00" x2="470.06" y2="309.90" stroke="#000" stroke-width="1.2"/>
<line x1="531.94" y1="177.00" x2="531.94" y2="309.90" stroke="#000" stroke-width="1.2"/>
<line x1="593.83" y1="177.00" x2="593.83" y2="309.90" stroke="#000" stroke-width="1.2"/>
<line x1="655.71" y1="177.00" x2="655.71" y2="309.90" stroke="#000" stroke-width="1.2"/>
<line x1="717.60" y1="177.00" x2="717.60" y2="309.90" stroke="#000" stroke-width="1.2"/>
<text font-family="Liberation Sans, sans-serif" x="30.46" y="312.91" font-size="8.6" text-anchor="end" textLength="17.2" lengthAdjust="spacingAndGlyphs" stroke="#000" stroke-width="0.22">−10</text>
<text font-family="Liberation Sans, sans-serif" x="30.46" y="290.75" font-size="8.6" text-anchor="end" textLength="5.2" lengthAdjust="spacingAndGlyphs" stroke="#000" stroke-width="0.22">0</text>
<text font-family="Liberation Sans, sans-serif" x="30.46" y="268.59" font-size="8.6" text-anchor="end" textLength="10.4" lengthAdjust="spacingAndGlyphs" stroke="#000" stroke-width="0.22">10</text>
<text font-family="Liberation Sans, sans-serif" x="30.46" y="246.43" font-size="8.6" text-anchor="end" textLength="10.4" lengthAdjust="spacingAndGlyphs" stroke="#000" stroke-width="0.22">20</text>
<text font-family="Liberation Sans, sans-serif" x="30.46" y="224.27" font-size="8.6" text-anchor="end" textLength="10.4" lengthAdjust="spacingAndGlyphs" stroke="#000" stroke-width="0.22">30</text>
<text font-family="Liberation Sans, sans-serif" x="30.46" y="202.11" font-size="8.6" text-anchor="end" textLength="10.4" lengthAdjust="spacingAndGlyphs" stroke="#000" stroke-width="0.22">40</text>
<text font-family="Liberation Sans, sans-serif" x="30.46" y="179.95" font-size="8.6" text-anchor="end" textLength="10.4" lengthAdjust="spacingAndGlyphs" stroke="#000" stroke-width="0.22">50</text>
<text font-family="Liberation Sans, sans-serif" x="41.6" y="295.34" font-size="8.0" fill="#1f77b4" textLength="43.2" lengthAdjust="spacingAndGlyphs" stroke="#1f77b4" stroke-width="0.22">observation</text>
<text font-family="Liberation Sans, sans-serif" x="41.6" y="301.64" font-size="8.0" fill="#ff7f0e" textLength="22.5" lengthAdjust="spacingAndGlyphs" stroke="#ff7f0e" stroke-width="0.22">model</text>
<text font-family="Liberation Sans, sans-serif" x="41.6" y="307.94" font-size="8.0" fill="#bf00bf" textLength="11.7" lengthAdjust="spacingAndGlyphs" stroke="#bf00bf" stroke-width="0.22">diff</text>
<text font-family="Liberation Sans, sans-serif" x="324.3" y="334.84" font-size="10.2" textLength="68.6" lengthAdjust="spacingAndGlyphs" stroke="#000" stroke-width="0.22">Velocity [km s</text>
<text font-family="Liberation Sans, sans-serif" x="394.0" y="331.14" font-size="7.0" textLength="9.2" lengthAdjust="spacingAndGlyphs" stroke="#000" stroke-width="0.22">−1</text>
<text font-family="Liberation Sans, sans-serif" x="404.9" y="334.84" font-size="10.2" stroke="#000" stroke-width="0.22">]</text>
<g transform="translate(0,244.54) rotate(-90)">
<text font-family="Liberation Sans, sans-serif" x="-16.2" y="7.6" font-size="10.2" textLength="6.2" lengthAdjust="spacingAndGlyphs" stroke="#000" stroke-width="0.22">T</text>
<text font-family="Liberation Sans, sans-serif" x="-9.9" y="8.5" font-size="6.9" textLength="10.6" lengthAdjust="spacingAndGlyphs" stroke="#000" stroke-width="0.22">mb</text>
<text font-family="Liberation Sans, sans-serif" x="4.6" y="7.0" font-size="9.4" textLength="13.1" lengthAdjust="spacingAndGlyphs" stroke="#000" stroke-width="0.22">[K]</text>
</g>
</g>
</svg>
</body></html>
